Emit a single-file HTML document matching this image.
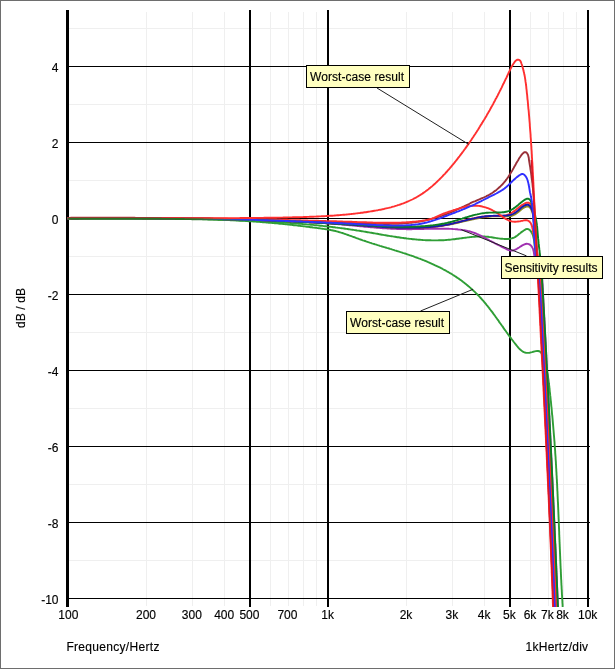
<!DOCTYPE html>
<html lang="en"><head><meta charset="utf-8"><title>Frequency response - worst-case and sensitivity</title>
<style>html,body{margin:0;padding:0;background:#fff;}body{width:615px;height:669px;overflow:hidden;}svg{display:block;}text{font-family:"Liberation Sans",sans-serif;fill:#000;stroke:#000;stroke-width:0.15px;}.ax{font-size:12px;}.lb{font-size:12px;}</style></head><body>
<svg width="615" height="669" viewBox="0 0 615 669">
<rect x="0" y="0" width="615" height="669" fill="#fff"/>
<g fill="#6e6e6e" shape-rendering="crispEdges">
<rect x="0" y="0" width="615" height="1"/>
<rect x="0" y="0" width="1" height="669"/>
<rect x="0" y="668" width="615" height="1"/>
<rect x="614" y="0" width="1" height="669"/>
</g>
<g fill="#efefef" shape-rendering="crispEdges">
<rect x="146" y="12" width="1" height="594"/>
<rect x="192" y="12" width="1" height="594"/>
<rect x="224" y="12" width="1" height="594"/>
<rect x="270" y="12" width="1" height="594"/>
<rect x="288" y="12" width="1" height="594"/>
<rect x="303" y="12" width="1" height="594"/>
<rect x="316" y="12" width="1" height="594"/>
<rect x="406" y="12" width="1" height="594"/>
<rect x="452" y="12" width="1" height="594"/>
<rect x="484" y="12" width="1" height="594"/>
<rect x="530" y="12" width="1" height="594"/>
<rect x="548" y="12" width="1" height="594"/>
<rect x="563" y="12" width="1" height="594"/>
<rect x="576" y="12" width="1" height="594"/>
<rect x="69" y="28" width="517" height="1"/>
<rect x="69" y="104" width="517" height="1"/>
<rect x="69" y="180" width="517" height="1"/>
<rect x="69" y="256" width="517" height="1"/>
<rect x="69" y="332" width="517" height="1"/>
<rect x="69" y="408" width="517" height="1"/>
<rect x="69" y="484" width="517" height="1"/>
<rect x="69" y="560" width="517" height="1"/>
</g>
<g fill="#000" shape-rendering="crispEdges">
<rect x="66" y="66" width="524" height="1"/>
<rect x="66" y="142" width="524" height="1"/>
<rect x="66" y="218" width="524" height="1"/>
<rect x="66" y="294" width="524" height="1"/>
<rect x="66" y="370" width="524" height="1"/>
<rect x="66" y="446" width="524" height="1"/>
<rect x="66" y="522" width="524" height="1"/>
<rect x="66" y="598" width="524" height="1"/>
<rect x="249" y="10" width="2" height="597"/>
<rect x="327" y="10" width="2" height="597"/>
<rect x="509" y="10" width="2" height="597"/>
<rect x="587" y="10" width="2" height="597"/>
<rect x="66" y="10" width="3" height="597"/>
</g>
<defs><linearGradient id="fadeR" gradientUnits="userSpaceOnUse" x1="150" y1="0" x2="235" y2="0"><stop offset="0" stop-color="#b82c38" stop-opacity="1"/><stop offset="1" stop-color="#ff3030" stop-opacity="0"/></linearGradient><linearGradient id="fadeG" gradientUnits="userSpaceOnUse" x1="190" y1="0" x2="265" y2="0"><stop offset="0" stop-color="#2a7024" stop-opacity="1"/><stop offset="1" stop-color="#2f9e36" stop-opacity="0"/></linearGradient><clipPath id="plotclip"><rect x="60" y="8" width="540" height="599"/></clipPath></defs>
<g fill="none" stroke-width="1.9" stroke-linejoin="round" stroke-linecap="butt" clip-path="url(#plotclip)">
<path stroke="#2f9e36" d="M67.5 218.2L68.7 218.2L69.9 218.2L71.1 218.2L72.3 218.3L73.5 218.3L74.7 218.3L75.9 218.3L77.1 218.3L78.3 218.3L79.5 218.3L80.7 218.3L81.9 218.3L83.1 218.3L84.3 218.4L85.5 218.4L86.7 218.4L87.9 218.4L89.1 218.4L90.3 218.4L91.5 218.4L92.7 218.4L93.9 218.4L95.1 218.4L96.3 218.4L97.5 218.4L98.7 218.4L99.9 218.4L101.1 218.4L102.3 218.4L103.5 218.4L104.7 218.4L105.9 218.4L107.1 218.4L108.3 218.4L109.5 218.4L110.7 218.4L111.9 218.4L113.1 218.4L114.3 218.4L115.5 218.4L116.7 218.4L117.9 218.4L119.1 218.4L120.3 218.4L121.5 218.4L122.7 218.4L123.9 218.4L125.1 218.4L126.2 218.4L127.4 218.4L128.6 218.4L129.8 218.4L131.0 218.4L132.2 218.4L133.4 218.4L134.6 218.4L135.8 218.4L137.0 218.4L138.2 218.4L139.4 218.4L140.6 218.4L141.8 218.4L143.0 218.5L144.2 218.5L145.4 218.5L146.6 218.5L147.8 218.5L149.0 218.5L150.2 218.5L151.4 218.5L152.6 218.5L153.8 218.5L155.0 218.5L156.2 218.5L157.4 218.5L158.6 218.5L159.8 218.5L161.0 218.5L162.2 218.5L163.4 218.5L164.6 218.5L165.8 218.6L167.0 218.6L168.2 218.6L169.4 218.6L170.6 218.6L171.8 218.6L173.0 218.6L174.2 218.6L175.4 218.6L176.6 218.7L177.8 218.7L179.0 218.7L180.2 218.7L181.4 218.7L182.6 218.7L183.8 218.8L185.0 218.8L186.2 218.8L187.4 218.8L188.6 218.8L189.8 218.9L191.0 218.9L192.2 218.9L193.4 218.9L194.6 219.0L195.8 219.0L197.0 219.0L198.2 219.0L199.4 219.1L200.6 219.1L201.8 219.1L203.0 219.2L204.2 219.2L205.4 219.2L206.6 219.3L207.8 219.3L209.0 219.3L210.2 219.4L211.4 219.4L212.6 219.4L213.8 219.5L215.0 219.5L216.2 219.6L217.4 219.6L218.6 219.7L219.8 219.7L221.0 219.7L222.2 219.8L223.4 219.8L224.6 219.9L225.8 219.9L227.0 220.0L228.2 220.0L229.4 220.1L230.6 220.2L231.8 220.2L233.0 220.3L234.1 220.3L235.3 220.4L236.5 220.5L237.7 220.5L238.9 220.6L240.1 220.7L241.3 220.7L242.5 220.8L243.7 220.9L244.9 220.9L246.1 221.0L247.3 221.1L248.5 221.2L249.7 221.2L250.9 221.3L252.1 221.4L253.3 221.5L254.5 221.6L255.7 221.6L256.9 221.7L258.1 221.8L259.3 221.9L260.5 222.0L261.7 222.1L262.9 222.2L264.1 222.3L265.3 222.4L266.4 222.5L267.6 222.6L268.8 222.7L270.0 222.8L271.2 222.9L272.4 223.0L273.6 223.1L274.8 223.2L276.0 223.3L277.2 223.4L278.4 223.6L279.6 223.7L280.8 223.8L282.0 223.9L283.2 224.0L284.4 224.1L285.6 224.3L286.8 224.4L287.9 224.5L289.1 224.6L290.3 224.8L291.5 224.9L292.7 225.0L293.9 225.2L295.1 225.3L296.3 225.4L297.5 225.6L298.7 225.7L299.9 225.8L301.1 226.0L302.2 226.1L303.4 226.3L304.6 226.4L305.8 226.6L307.0 226.7L308.2 226.9L309.4 227.0L310.6 227.2L311.8 227.3L313.0 227.5L314.1 227.6L315.3 227.8L316.5 227.9L317.7 228.1L318.9 228.2L320.1 228.4L321.3 228.6L322.5 228.7L323.6 228.9L324.8 229.1L326.0 229.2L327.2 229.4L328.4 229.6L329.6 229.8L330.7 230.0L331.9 230.3L333.1 230.5L334.2 230.8L335.4 231.0L336.6 231.3L337.7 231.6L338.9 232.0L340.0 232.3L341.2 232.7L342.3 233.0L343.5 233.4L344.6 233.8L345.7 234.2L346.9 234.6L348.0 235.0L349.1 235.4L350.3 235.8L351.4 236.2L352.5 236.6L353.7 237.0L354.8 237.4L355.9 237.9L357.1 238.3L358.2 238.7L359.3 239.1L360.5 239.5L361.6 239.9L362.7 240.3L363.9 240.6L365.0 241.0L366.1 241.4L367.3 241.8L368.4 242.2L369.6 242.6L370.7 242.9L371.8 243.3L373.0 243.7L374.1 244.0L375.3 244.4L376.4 244.7L377.5 245.1L378.7 245.4L379.8 245.8L381.0 246.1L382.1 246.5L383.3 246.8L384.4 247.2L385.6 247.5L386.7 247.9L387.8 248.2L389.0 248.5L390.1 248.9L391.3 249.2L392.4 249.6L393.6 249.9L394.7 250.3L395.9 250.6L397.0 251.0L398.2 251.3L399.3 251.7L400.5 252.1L401.6 252.4L402.7 252.8L403.9 253.2L405.0 253.5L406.2 253.9L407.3 254.3L408.4 254.7L409.6 255.1L410.7 255.4L411.9 255.8L413.0 256.2L414.1 256.6L415.3 257.1L416.4 257.5L417.5 257.9L418.6 258.3L419.8 258.7L420.9 259.2L422.0 259.6L423.1 260.0L424.2 260.5L425.4 260.9L426.5 261.4L427.6 261.9L428.7 262.3L429.8 262.8L430.9 263.3L432.0 263.8L433.1 264.3L434.2 264.8L435.2 265.3L436.3 265.8L437.4 266.3L438.5 266.8L439.6 267.3L440.6 267.9L441.7 268.4L442.7 269.0L443.8 269.6L444.8 270.1L445.9 270.7L446.9 271.3L448.0 271.9L449.0 272.5L450.0 273.1L451.1 273.7L452.1 274.3L453.1 275.0L454.1 275.6L455.1 276.2L456.1 276.9L457.1 277.6L458.1 278.2L459.1 278.9L460.0 279.6L461.0 280.3L462.0 281.0L462.9 281.8L463.9 282.5L464.8 283.2L465.8 284.0L466.7 284.7L467.6 285.5L468.5 286.3L469.5 287.1L470.4 287.9L471.3 288.7L472.2 289.5L473.0 290.3L473.9 291.1L474.8 291.9L475.7 292.8L476.5 293.6L477.4 294.5L478.2 295.4L479.0 296.2L479.9 297.1L480.7 298.0L481.5 298.9L482.3 299.8L483.1 300.7L483.9 301.6L484.6 302.5L485.4 303.4L486.2 304.4L486.9 305.3L487.7 306.2L488.4 307.2L489.2 308.1L489.9 309.1L490.6 310.0L491.3 311.0L492.1 311.9L492.8 312.9L493.5 313.9L494.2 314.8L494.9 315.8L495.6 316.8L496.3 317.7L497.0 318.7L497.7 319.7L498.4 320.6L499.0 321.6L499.7 322.6L500.4 323.5L501.1 324.5L501.8 325.5L502.5 326.4L503.2 327.4L503.8 328.4L504.5 329.4L505.2 330.3L505.9 331.3L506.6 332.3L507.3 333.2L508.0 334.2L508.7 335.2L509.4 336.2L510.1 337.1L510.9 338.1L511.6 339.1L512.3 340.0L513.1 341.0L513.8 342.0L514.6 343.0L515.3 343.9L516.1 344.9L516.9 345.9L517.7 346.8L518.5 347.8L519.3 348.7L520.2 349.5L521.1 350.3L522.0 351.0L522.9 351.6L523.9 352.1L525.0 352.5L526.0 352.7L527.2 352.9L528.3 352.9L529.6 352.7L530.9 352.4L532.1 352.1L533.4 351.7L534.7 351.4L535.9 351.1L537.1 351.0L538.2 351.0L539.1 351.2L540.0 351.7L540.8 352.4L541.4 353.2L542.0 354.2L542.5 355.3L543.0 356.4L543.4 357.6L543.8 358.7L544.2 359.9L544.6 361.1L544.9 362.2L545.3 363.4L545.6 364.6L545.9 365.7L546.2 366.9L546.4 368.1L546.7 369.3L546.9 370.4L547.2 371.6L547.4 372.8L547.6 374.0L547.8 375.2L548.0 376.4L548.1 377.5L548.3 378.7L548.5 379.9L548.6 381.1L548.8 382.3L548.9 383.5L549.1 384.7L549.2 385.9L549.3 387.0L549.5 388.2L549.6 389.4L549.7 390.6L549.8 391.8L550.0 393.0L550.1 394.2L550.2 395.4L550.4 396.6L550.5 397.8L550.6 399.0L550.7 400.1L550.9 401.3L551.0 402.5L551.1 403.7L551.2 404.9L551.3 406.1L551.5 407.3L551.6 408.5L551.7 409.7L551.8 410.9L551.9 412.1L552.0 413.3L552.1 414.5L552.3 415.7L552.4 416.9L552.5 418.0L552.6 419.2L552.7 420.4L552.8 421.6L552.9 422.8L553.0 424.0L553.1 425.2L553.2 426.4L553.3 427.6L553.4 428.8L553.5 430.0L553.6 431.2L553.7 432.4L553.8 433.6L553.9 434.8L554.0 436.0L554.1 437.2L554.2 438.4L554.3 439.6L554.4 440.8L554.5 441.9L554.6 443.1L554.6 444.3L554.7 445.5L554.8 446.7L554.9 447.9L555.0 449.1L555.1 450.3L555.2 451.5L555.2 452.7L555.3 453.9L555.4 455.1L555.5 456.3L555.6 457.5L555.6 458.7L555.7 459.9L555.8 461.1L555.9 462.3L555.9 463.5L556.0 464.7L556.1 465.9L556.1 467.1L556.2 468.3L556.3 469.5L556.3 470.7L556.4 471.9L556.5 473.1L556.5 474.3L556.6 475.5L556.7 476.7L556.7 477.8L556.8 479.0L556.9 480.2L556.9 481.4L557.0 482.6L557.1 483.8L557.1 485.0L557.2 486.2L557.2 487.4L557.3 488.6L557.3 489.8L557.4 491.0L557.5 492.2L557.5 493.4L557.6 494.6L557.6 495.8L557.7 497.0L557.7 498.2L557.8 499.4L557.8 500.6L557.9 501.8L558.0 503.0L558.0 504.2L558.1 505.4L558.1 506.6L558.2 507.8L558.2 509.0L558.3 510.2L558.3 511.4L558.4 512.6L558.4 513.8L558.5 515.0L558.5 516.2L558.6 517.4L558.6 518.6L558.7 519.8L558.7 521.0L558.8 522.2L558.8 523.4L558.9 524.6L558.9 525.8L559.0 527.0L559.0 528.2L559.1 529.4L559.1 530.6L559.2 531.8L559.2 533.0L559.2 534.1L559.3 535.3L559.3 536.5L559.4 537.7L559.4 538.9L559.5 540.1L559.5 541.3L559.6 542.5L559.6 543.7L559.7 544.9L559.7 546.1L559.8 547.3L559.8 548.5L559.9 549.7L559.9 550.9L560.0 552.1L560.0 553.3L560.1 554.5L560.1 555.7L560.2 556.9L560.2 558.1L560.3 559.3L560.3 560.5L560.4 561.7L560.4 562.9L560.5 564.1L560.5 565.3L560.6 566.5L560.6 567.7L560.7 568.9L560.8 570.1L560.8 571.3L560.9 572.5L560.9 573.7L561.0 574.9L561.0 576.1L561.1 577.3L561.1 578.5L561.2 579.7L561.3 580.9L561.3 582.1L561.4 583.3L561.4 584.5L561.5 585.7L561.6 586.9L561.6 588.1L561.7 589.3L561.8 590.5L561.8 591.6L561.9 592.8L561.9 594.0L562.0 595.2L562.1 596.4L562.1 597.6L562.2 598.8L562.3 600.0L562.4 601.2L562.4 602.4L562.5 603.6L562.6 604.8L562.6 606.0L562.7 607.2L562.8 608.4L562.9 609.6L562.9 610.8L563.0 612.0"/>
<path stroke="#2f9e36" d="M67.5 218.2L68.7 218.2L69.9 218.2L71.1 218.2L72.3 218.2L73.5 218.2L74.7 218.2L75.9 218.2L77.1 218.2L78.3 218.2L79.5 218.2L80.7 218.2L81.9 218.2L83.1 218.2L84.3 218.2L85.5 218.2L86.7 218.2L87.9 218.2L89.1 218.2L90.3 218.2L91.5 218.2L92.7 218.2L93.8 218.2L95.0 218.2L96.2 218.2L97.4 218.2L98.6 218.2L99.8 218.2L101.0 218.2L102.2 218.2L103.4 218.2L104.6 218.2L105.8 218.2L107.0 218.2L108.2 218.2L109.4 218.2L110.6 218.2L111.8 218.2L113.0 218.2L114.2 218.2L115.4 218.2L116.6 218.2L117.8 218.2L119.0 218.2L120.2 218.2L121.4 218.2L122.6 218.2L123.8 218.2L125.0 218.2L126.2 218.2L127.4 218.2L128.6 218.2L129.8 218.2L131.0 218.2L132.2 218.3L133.4 218.3L134.6 218.3L135.8 218.3L137.0 218.3L138.2 218.3L139.4 218.3L140.6 218.3L141.8 218.3L143.0 218.3L144.2 218.3L145.4 218.3L146.6 218.3L147.8 218.3L149.0 218.3L150.2 218.3L151.4 218.3L152.6 218.3L153.8 218.4L155.0 218.4L156.2 218.4L157.4 218.4L158.6 218.4L159.8 218.4L161.0 218.4L162.2 218.4L163.4 218.4L164.6 218.4L165.8 218.5L167.0 218.5L168.2 218.5L169.4 218.5L170.6 218.5L171.8 218.5L173.0 218.5L174.2 218.6L175.4 218.6L176.6 218.6L177.8 218.6L179.0 218.6L180.2 218.6L181.4 218.7L182.6 218.7L183.8 218.7L185.0 218.7L186.2 218.7L187.4 218.7L188.6 218.8L189.8 218.8L191.0 218.8L192.2 218.8L193.4 218.9L194.6 218.9L195.8 218.9L197.0 218.9L198.2 219.0L199.4 219.0L200.6 219.0L201.8 219.0L203.0 219.1L204.2 219.1L205.4 219.1L206.6 219.1L207.8 219.2L209.0 219.2L210.2 219.2L211.4 219.3L212.6 219.3L213.8 219.3L215.0 219.4L216.2 219.4L217.4 219.4L218.6 219.5L219.8 219.5L221.0 219.5L222.2 219.6L223.4 219.6L224.6 219.6L225.8 219.7L227.0 219.7L228.2 219.8L229.4 219.8L230.5 219.8L231.7 219.9L232.9 219.9L234.1 220.0L235.3 220.0L236.5 220.1L237.7 220.1L238.9 220.2L240.1 220.2L241.3 220.3L242.5 220.3L243.7 220.4L244.9 220.4L246.1 220.5L247.3 220.5L248.5 220.6L249.7 220.6L250.9 220.7L252.1 220.7L253.3 220.8L254.5 220.8L255.7 220.9L256.9 221.0L258.1 221.0L259.3 221.1L260.5 221.1L261.7 221.2L262.9 221.3L264.1 221.3L265.3 221.4L266.5 221.5L267.7 221.5L268.9 221.6L270.1 221.7L271.2 221.7L272.4 221.8L273.6 221.9L274.8 222.0L276.0 222.0L277.2 222.1L278.4 222.2L279.6 222.3L280.8 222.3L282.0 222.4L283.2 222.5L284.4 222.6L285.6 222.7L286.8 222.7L288.0 222.8L289.2 222.9L290.4 223.0L291.6 223.1L292.8 223.2L293.9 223.3L295.1 223.4L296.3 223.5L297.5 223.6L298.7 223.7L299.9 223.8L301.1 223.9L302.3 224.0L303.5 224.1L304.7 224.2L305.9 224.3L307.1 224.4L308.3 224.5L309.5 224.6L310.7 224.7L311.8 224.8L313.0 224.9L314.2 225.1L315.4 225.2L316.6 225.3L317.8 225.4L319.0 225.5L320.2 225.7L321.4 225.8L322.6 225.9L323.8 226.1L325.0 226.2L326.1 226.3L327.3 226.5L328.5 226.6L329.7 226.7L330.9 226.9L332.1 227.0L333.3 227.2L334.5 227.3L335.7 227.5L336.9 227.6L338.0 227.8L339.2 227.9L340.4 228.1L341.6 228.2L342.8 228.4L344.0 228.5L345.2 228.7L346.4 228.9L347.6 229.0L348.7 229.2L349.9 229.4L351.1 229.6L352.3 229.7L353.5 229.9L354.7 230.1L355.9 230.3L357.0 230.5L358.2 230.6L359.4 230.8L360.6 231.0L361.8 231.2L363.0 231.4L364.2 231.6L365.4 231.8L366.5 232.0L367.7 232.2L368.9 232.4L370.1 232.6L371.3 232.8L372.5 233.0L373.7 233.2L374.8 233.4L376.0 233.6L377.2 233.8L378.4 234.0L379.6 234.3L380.8 234.5L381.9 234.7L383.1 234.9L384.3 235.1L385.5 235.3L386.7 235.5L387.9 235.7L389.1 235.9L390.2 236.1L391.4 236.2L392.6 236.4L393.8 236.6L395.0 236.8L396.2 237.0L397.3 237.2L398.5 237.3L399.7 237.5L400.9 237.7L402.1 237.9L403.3 238.0L404.5 238.2L405.6 238.3L406.8 238.5L408.0 238.6L409.2 238.8L410.4 238.9L411.6 239.0L412.8 239.2L414.0 239.3L415.1 239.4L416.3 239.5L417.5 239.6L418.7 239.7L419.9 239.8L421.1 239.9L422.3 240.0L423.5 240.1L424.7 240.1L425.8 240.2L427.0 240.2L428.2 240.3L429.4 240.3L430.6 240.3L431.8 240.4L433.0 240.4L434.2 240.4L435.4 240.4L436.6 240.4L437.8 240.4L439.0 240.3L440.2 240.3L441.4 240.3L442.5 240.2L443.7 240.2L444.9 240.1L446.1 240.0L447.3 239.9L448.5 239.8L449.7 239.7L450.9 239.6L452.1 239.4L453.3 239.3L454.5 239.2L455.7 239.0L456.9 238.8L458.1 238.7L459.3 238.5L460.5 238.4L461.7 238.2L462.9 238.0L464.1 237.9L465.3 237.7L466.5 237.6L467.7 237.4L468.9 237.3L470.1 237.1L471.3 237.0L472.5 236.9L473.7 236.8L474.9 236.7L476.1 236.6L477.3 236.5L478.5 236.5L479.7 236.5L480.9 236.5L482.1 236.5L483.3 236.5L484.5 236.5L485.7 236.6L486.9 236.7L488.1 236.8L489.2 237.0L490.4 237.1L491.6 237.3L492.8 237.5L494.0 237.7L495.2 237.9L496.4 238.1L497.6 238.3L498.7 238.4L499.9 238.6L501.1 238.7L502.3 238.8L503.5 238.9L504.7 239.0L505.9 239.0L507.1 239.0L508.2 239.0L509.4 238.8L510.6 238.7L511.7 238.4L512.8 238.0L513.9 237.6L515.0 237.1L516.0 236.4L517.0 235.7L518.0 234.9L519.0 234.1L519.9 233.4L520.8 232.6L521.8 231.9L522.8 231.2L523.8 230.5L524.9 229.8L526.0 229.2L527.1 228.9L528.2 229.1L529.1 229.6L530.0 230.3L530.7 231.2L531.4 232.1L531.9 233.2L532.4 234.2L532.9 235.3L533.2 236.5L533.5 237.7L533.8 238.9L534.0 240.2L534.2 241.4L534.3 242.6L534.5 243.9L534.6 245.1L534.7 246.3L534.9 247.5L535.0 248.7L535.1 249.8L535.3 251.0L535.4 252.2L535.5 253.3L535.7 254.5L535.9 255.6L536.1 256.8L536.3 257.9L536.6 259.1L536.8 260.2L537.1 261.4L537.4 262.6L537.7 263.7L537.9 264.9L538.2 266.1L538.5 267.3L538.8 268.4L539.1 269.6L539.4 270.8L539.7 272.0L539.9 273.2L540.2 274.3L540.4 275.5L540.6 276.7L540.8 277.9L541.0 279.1L541.1 280.3L541.3 281.5L541.4 282.7L541.5 283.9L541.5 285.1L541.6 286.3L541.6 287.5L541.7 288.7L541.7 289.9L541.7 291.1L541.8 292.3L541.8 293.5L541.8 294.7L541.9 295.9L541.9 297.1L541.9 298.3L542.0 299.5L542.0 300.7L542.1 301.9L542.1 303.0L542.2 304.2L542.2 305.4L542.3 306.6L542.3 307.8L542.4 309.0L542.5 310.2L542.5 311.4L542.6 312.6L542.7 313.8L542.7 315.0L542.8 316.2L542.9 317.4L542.9 318.6L543.0 319.8L543.1 321.0L543.1 322.2L543.2 323.4L543.3 324.6L543.3 325.8L543.4 327.0L543.5 328.2L543.5 329.4L543.6 330.6L543.7 331.8L543.8 333.0L543.8 334.2L543.9 335.4L544.0 336.6L544.0 337.8L544.1 339.0L544.2 340.2L544.2 341.4L544.3 342.6L544.4 343.7L544.4 344.9L544.5 346.1L544.5 347.3L544.6 348.5L544.7 349.7L544.7 350.9L544.8 352.1L544.9 353.3L544.9 354.5L545.0 355.7L545.1 356.9L545.1 358.1L545.2 359.3L545.3 360.5L545.3 361.7L545.4 362.9L545.4 364.1L545.5 365.3L545.6 366.5L545.6 367.7L545.7 368.9L545.8 370.1L545.8 371.3L545.9 372.5L545.9 373.7L546.0 374.9L546.1 376.1L546.1 377.3L546.2 378.5L546.3 379.7L546.3 380.9L546.4 382.1L546.4 383.3L546.5 384.5L546.6 385.7L546.6 386.8L546.7 388.0L546.7 389.2L546.8 390.4L546.9 391.6L546.9 392.8L547.0 394.0L547.0 395.2L547.1 396.4L547.2 397.6L547.2 398.8L547.3 400.0L547.3 401.2L547.4 402.4L547.5 403.6L547.5 404.8L547.6 406.0L547.6 407.2L547.7 408.4L547.8 409.6L547.8 410.8L547.9 412.0L547.9 413.2L548.0 414.4L548.1 415.6L548.1 416.8L548.2 418.0L548.2 419.2L548.3 420.4L548.3 421.6L548.4 422.8L548.5 424.0L548.5 425.2L548.6 426.4L548.6 427.6L548.7 428.8L548.7 430.0L548.8 431.2L548.9 432.3L548.9 433.5L549.0 434.7L549.0 435.9L549.1 437.1L549.1 438.3L549.2 439.5L549.3 440.7L549.3 441.9L549.4 443.1L549.4 444.3L549.5 445.5L549.5 446.7L549.6 447.9L549.6 449.1L549.7 450.3L549.8 451.5L549.8 452.7L549.9 453.9L549.9 455.1L550.0 456.3L550.0 457.5L550.1 458.7L550.1 459.9L550.2 461.1L550.2 462.3L550.3 463.5L550.4 464.7L550.4 465.9L550.5 467.1L550.5 468.3L550.6 469.5L550.6 470.7L550.7 471.9L550.7 473.1L550.8 474.3L550.8 475.5L550.9 476.7L551.0 477.9L551.0 479.1L551.1 480.3L551.1 481.4L551.2 482.6L551.2 483.8L551.3 485.0L551.3 486.2L551.4 487.4L551.4 488.6L551.5 489.8L551.5 491.0L551.6 492.2L551.6 493.4L551.7 494.6L551.8 495.8L551.8 497.0L551.9 498.2L551.9 499.4L552.0 500.6L552.0 501.8L552.1 503.0L552.1 504.2L552.2 505.4L552.2 506.6L552.3 507.8L552.3 509.0L552.4 510.2L552.4 511.4L552.5 512.6L552.5 513.8L552.6 515.0L552.6 516.2L552.7 517.4L552.8 518.6L552.8 519.8L552.9 521.0L552.9 522.2L553.0 523.4L553.0 524.6L553.1 525.8L553.1 527.0L553.2 528.2L553.2 529.4L553.3 530.6L553.3 531.8L553.4 532.9L553.4 534.1L553.5 535.3L553.5 536.5L553.6 537.7L553.6 538.9L553.7 540.1L553.7 541.3L553.8 542.5L553.8 543.7L553.9 544.9L553.9 546.1L554.0 547.3L554.0 548.5L554.1 549.7L554.1 550.9L554.2 552.1L554.2 553.3L554.3 554.5L554.4 555.7L554.4 556.9L554.5 558.1L554.5 559.3L554.6 560.5L554.6 561.7L554.7 562.9L554.7 564.1L554.8 565.3L554.8 566.5L554.9 567.7L554.9 568.9L555.0 570.1L555.0 571.3L555.1 572.5L555.1 573.7L555.2 574.9L555.2 576.1L555.3 577.3L555.3 578.5L555.4 579.7L555.4 580.9L555.5 582.1L555.5 583.3L555.6 584.5L555.6 585.6L555.7 586.8L555.7 588.0L555.8 589.2L555.8 590.4L555.9 591.6L555.9 592.8L556.0 594.0L556.0 595.2L556.1 596.4L556.1 597.6L556.2 598.8L556.2 600.0L556.3 601.2L556.4 602.4L556.4 603.6L556.5 604.8L556.5 606.0L556.6 607.2L556.6 608.4L556.7 609.6L556.7 610.8L556.8 612.0"/>
<path stroke="#a030b0" d="M67.5 218.2L68.7 218.2L69.9 218.2L71.1 218.2L72.3 218.2L73.5 218.2L74.7 218.2L75.9 218.2L77.1 218.2L78.3 218.2L79.5 218.2L80.7 218.2L81.9 218.2L83.1 218.1L84.3 218.1L85.5 218.1L86.7 218.1L87.9 218.1L89.1 218.1L90.3 218.1L91.5 218.1L92.7 218.1L93.9 218.1L95.1 218.1L96.3 218.1L97.5 218.1L98.7 218.1L99.9 218.1L101.1 218.1L102.3 218.1L103.5 218.1L104.7 218.1L105.9 218.1L107.1 218.1L108.3 218.1L109.5 218.1L110.7 218.1L111.9 218.1L113.1 218.1L114.3 218.1L115.5 218.1L116.7 218.1L117.9 218.1L119.1 218.1L120.3 218.1L121.5 218.1L122.7 218.1L123.9 218.1L125.1 218.1L126.3 218.1L127.5 218.1L128.7 218.1L129.9 218.1L131.1 218.1L132.3 218.1L133.5 218.1L134.7 218.2L135.9 218.2L137.1 218.2L138.3 218.2L139.5 218.2L140.7 218.2L141.9 218.2L143.1 218.2L144.3 218.2L145.5 218.2L146.7 218.2L147.9 218.2L149.1 218.2L150.3 218.2L151.5 218.2L152.7 218.2L153.9 218.3L155.1 218.3L156.3 218.3L157.5 218.3L158.7 218.3L159.9 218.3L161.1 218.3L162.3 218.3L163.5 218.3L164.7 218.3L165.9 218.3L167.1 218.4L168.3 218.4L169.5 218.4L170.7 218.4L171.9 218.4L173.1 218.4L174.3 218.4L175.5 218.4L176.7 218.4L177.9 218.5L179.1 218.5L180.3 218.5L181.5 218.5L182.7 218.5L183.9 218.5L185.1 218.5L186.3 218.6L187.5 218.6L188.7 218.6L189.9 218.6L191.1 218.6L192.3 218.6L193.5 218.7L194.7 218.7L195.9 218.7L197.1 218.7L198.3 218.7L199.5 218.7L200.7 218.8L201.9 218.8L203.1 218.8L204.3 218.8L205.5 218.8L206.7 218.9L207.9 218.9L209.1 218.9L210.3 218.9L211.5 218.9L212.7 219.0L213.9 219.0L215.1 219.0L216.3 219.0L217.5 219.0L218.7 219.1L219.9 219.1L221.1 219.1L222.3 219.1L223.5 219.2L224.7 219.2L225.9 219.2L227.1 219.2L228.3 219.3L229.5 219.3L230.7 219.3L231.9 219.3L233.1 219.4L234.3 219.4L235.5 219.4L236.7 219.4L237.9 219.5L239.1 219.5L240.3 219.5L241.5 219.5L242.7 219.6L243.9 219.6L245.0 219.6L246.2 219.7L247.4 219.7L248.6 219.7L249.8 219.8L251.0 219.8L252.2 219.8L253.4 219.8L254.6 219.9L255.8 219.9L257.0 219.9L258.2 220.0L259.4 220.0L260.6 220.0L261.8 220.1L263.0 220.1L264.2 220.1L265.4 220.2L266.6 220.2L267.8 220.3L269.0 220.3L270.2 220.3L271.4 220.4L272.6 220.4L273.8 220.4L275.0 220.5L276.2 220.5L277.4 220.6L278.6 220.6L279.8 220.6L281.0 220.7L282.2 220.7L283.4 220.8L284.6 220.8L285.8 220.9L287.0 220.9L288.2 221.0L289.4 221.0L290.6 221.1L291.8 221.1L293.0 221.2L294.2 221.2L295.4 221.3L296.6 221.3L297.8 221.4L299.0 221.4L300.2 221.5L301.4 221.6L302.6 221.6L303.8 221.7L305.0 221.8L306.2 221.8L307.4 221.9L308.6 222.0L309.8 222.0L311.0 222.1L312.2 222.2L313.4 222.2L314.6 222.3L315.8 222.4L317.0 222.5L318.2 222.5L319.4 222.6L320.6 222.7L321.8 222.8L323.0 222.9L324.2 223.0L325.4 223.1L326.6 223.2L327.7 223.2L328.9 223.3L330.1 223.4L331.3 223.5L332.5 223.6L333.7 223.7L334.9 223.8L336.1 224.0L337.3 224.1L338.5 224.2L339.7 224.3L340.9 224.4L342.1 224.5L343.3 224.6L344.5 224.7L345.7 224.8L346.9 224.9L348.1 225.1L349.3 225.2L350.4 225.3L351.6 225.4L352.8 225.5L354.0 225.6L355.2 225.7L356.4 225.9L357.6 226.0L358.8 226.1L360.0 226.2L361.2 226.3L362.4 226.4L363.6 226.6L364.8 226.7L366.0 226.8L367.2 226.9L368.4 227.0L369.5 227.1L370.7 227.2L371.9 227.3L373.1 227.4L374.3 227.5L375.5 227.6L376.7 227.7L377.9 227.8L379.1 227.9L380.3 228.0L381.5 228.1L382.7 228.2L383.9 228.3L385.1 228.3L386.3 228.4L387.5 228.5L388.7 228.6L389.9 228.6L391.1 228.7L392.3 228.8L393.5 228.8L394.7 228.9L395.9 228.9L397.1 229.0L398.3 229.0L399.5 229.0L400.7 229.1L401.9 229.1L403.1 229.1L404.3 229.1L405.5 229.1L406.7 229.2L407.9 229.2L409.1 229.2L410.3 229.2L411.5 229.2L412.7 229.1L413.9 229.1L415.1 229.1L416.3 229.1L417.5 229.1L418.7 229.1L419.9 229.0L421.1 229.0L422.3 229.0L423.5 229.0L424.7 228.9L425.9 228.9L427.1 228.9L428.3 228.8L429.5 228.8L430.7 228.8L431.9 228.8L433.1 228.7L434.3 228.7L435.5 228.7L436.7 228.7L437.9 228.7L439.1 228.7L440.3 228.7L441.5 228.7L442.7 228.7L443.9 228.7L445.1 228.7L446.3 228.7L447.5 228.8L448.7 228.8L449.9 228.9L451.1 228.9L452.3 229.0L453.5 229.1L454.7 229.1L455.8 229.2L457.0 229.3L458.2 229.5L459.4 229.6L460.6 229.7L461.8 229.9L463.0 230.1L464.2 230.3L465.4 230.5L466.5 230.7L467.7 231.0L468.9 231.2L470.0 231.5L471.2 231.8L472.3 232.2L473.5 232.6L474.6 233.0L475.7 233.4L476.8 233.9L477.9 234.3L479.0 234.9L480.1 235.4L481.2 235.9L482.3 236.5L483.3 237.0L484.4 237.6L485.5 238.2L486.5 238.8L487.6 239.3L488.6 239.9L489.7 240.5L490.7 241.0L491.8 241.6L492.8 242.2L493.9 242.7L494.9 243.3L496.0 243.8L497.1 244.4L498.1 245.0L499.2 245.5L500.3 246.0L501.4 246.6L502.4 247.1L503.5 247.7L504.6 248.2L505.7 248.7L506.9 249.3L508.0 249.8L509.1 250.2L510.3 250.5L511.4 250.6L512.5 250.5L513.6 250.3L514.7 249.9L515.8 249.4L516.9 248.8L518.0 248.1L519.1 247.5L520.1 246.8L521.2 246.1L522.3 245.4L523.4 244.9L524.5 244.4L525.6 244.0L526.7 243.8L527.8 243.9L528.8 244.1L529.7 244.6L530.6 245.2L531.4 246.1L532.0 247.0L532.6 248.1L533.1 249.2L533.4 250.4L533.7 251.6L533.9 252.9L534.1 254.1L534.3 255.4L534.6 256.6L534.9 257.8L535.3 258.9L535.8 259.9L536.3 261.0L536.9 262.0L537.5 263.1L538.1 264.1L538.7 265.1L539.3 266.2L539.9 267.2L540.4 268.3L540.8 269.4L541.2 270.5L541.5 271.7L541.7 272.8L541.8 274.0L541.9 275.2L542.0 276.4L542.1 277.6L542.2 278.8L542.3 280.0L542.4 281.2L542.4 282.4L542.5 283.6L542.6 284.8L542.7 286.0L542.7 287.2L542.8 288.4L542.9 289.6L542.9 290.8L543.0 292.0L543.0 293.2L543.1 294.4L543.2 295.6L543.2 296.8L543.3 298.0L543.4 299.2L543.4 300.4L543.5 301.6L543.5 302.8L543.6 304.0L543.7 305.2L543.7 306.4L543.8 307.6L543.9 308.8L543.9 310.0L544.0 311.2L544.0 312.4L544.1 313.6L544.2 314.8L544.2 316.0L544.3 317.2L544.4 318.4L544.4 319.6L544.5 320.8L544.5 322.0L544.6 323.2L544.7 324.4L544.7 325.6L544.8 326.8L544.9 328.0L544.9 329.2L545.0 330.4L545.0 331.6L545.1 332.8L545.2 334.0L545.2 335.2L545.3 336.4L545.4 337.6L545.4 338.8L545.5 339.9L545.5 341.1L545.6 342.3L545.7 343.5L545.7 344.7L545.8 345.9L545.8 347.1L545.9 348.3L546.0 349.5L546.0 350.7L546.1 351.9L546.2 353.1L546.2 354.3L546.3 355.5L546.3 356.7L546.4 357.9L546.5 359.1L546.5 360.3L546.6 361.5L546.6 362.7L546.7 363.9L546.8 365.1L546.8 366.3L546.9 367.5L547.0 368.7L547.0 369.9L547.1 371.1L547.1 372.3L547.2 373.5L547.3 374.7L547.3 375.9L547.4 377.1L547.4 378.3L547.5 379.5L547.6 380.7L547.6 381.9L547.7 383.1L547.7 384.3L547.8 385.5L547.9 386.7L547.9 387.9L548.0 389.1L548.0 390.3L548.1 391.5L548.2 392.7L548.2 393.9L548.3 395.1L548.3 396.3L548.4 397.5L548.5 398.7L548.5 399.9L548.6 401.1L548.6 402.3L548.7 403.5L548.8 404.7L548.8 405.9L548.9 407.0L548.9 408.2L549.0 409.4L549.1 410.6L549.1 411.8L549.2 413.0L549.2 414.2L549.3 415.4L549.4 416.6L549.4 417.8L549.5 419.0L549.5 420.2L549.6 421.4L549.7 422.6L549.7 423.8L549.8 425.0L549.8 426.2L549.9 427.4L549.9 428.6L550.0 429.8L550.1 431.0L550.1 432.2L550.2 433.4L550.2 434.6L550.3 435.8L550.4 437.0L550.4 438.2L550.5 439.4L550.5 440.6L550.6 441.8L550.6 443.0L550.7 444.2L550.8 445.4L550.8 446.6L550.9 447.8L550.9 449.0L551.0 450.2L551.1 451.4L551.1 452.6L551.2 453.8L551.2 455.0L551.3 456.2L551.3 457.4L551.4 458.6L551.5 459.8L551.5 461.0L551.6 462.2L551.6 463.4L551.7 464.6L551.7 465.8L551.8 467.0L551.9 468.2L551.9 469.4L552.0 470.6L552.0 471.8L552.1 473.0L552.1 474.2L552.2 475.4L552.2 476.6L552.3 477.8L552.4 479.0L552.4 480.2L552.5 481.3L552.5 482.5L552.6 483.7L552.6 484.9L552.7 486.1L552.8 487.3L552.8 488.5L552.9 489.7L552.9 490.9L553.0 492.1L553.0 493.3L553.1 494.5L553.1 495.7L553.2 496.9L553.3 498.1L553.3 499.3L553.4 500.5L553.4 501.7L553.5 502.9L553.5 504.1L553.6 505.3L553.6 506.5L553.7 507.7L553.7 508.9L553.8 510.1L553.9 511.3L553.9 512.5L554.0 513.7L554.0 514.9L554.1 516.1L554.1 517.3L554.2 518.5L554.2 519.7L554.3 520.9L554.3 522.1L554.4 523.3L554.5 524.5L554.5 525.7L554.6 526.9L554.6 528.1L554.7 529.3L554.7 530.5L554.8 531.7L554.8 532.9L554.9 534.1L554.9 535.3L555.0 536.5L555.0 537.7L555.1 538.9L555.1 540.1L555.2 541.3L555.2 542.5L555.3 543.7L555.4 544.9L555.4 546.1L555.5 547.3L555.5 548.5L555.6 549.7L555.6 550.9L555.7 552.1L555.7 553.3L555.8 554.5L555.8 555.7L555.9 556.9L555.9 558.1L556.0 559.3L556.0 560.5L556.1 561.7L556.1 562.9L556.2 564.1L556.2 565.2L556.3 566.4L556.3 567.6L556.4 568.8L556.4 570.0L556.5 571.2L556.5 572.4L556.6 573.6L556.6 574.8L556.7 576.0L556.7 577.2L556.8 578.4L556.8 579.6L556.9 580.8L556.9 582.0L557.0 583.2L557.0 584.4L557.1 585.6L557.1 586.8L557.2 588.0L557.2 589.2L557.3 590.4L557.3 591.6L557.4 592.8L557.4 594.0L557.5 595.2L557.5 596.4L557.6 597.6L557.6 598.8L557.7 600.0L557.7 601.2L557.8 602.4L557.8 603.6L557.9 604.8L557.9 606.0L558.0 607.2L558.0 608.4L558.1 609.6L558.1 610.8L558.1 612.0"/>
<path stroke="#8c8c22" d="M67.5 218.2L68.7 218.2L69.9 218.2L71.1 218.2L72.3 218.2L73.5 218.2L74.7 218.2L75.9 218.2L77.1 218.2L78.3 218.2L79.5 218.2L80.7 218.2L81.9 218.2L83.1 218.2L84.3 218.2L85.5 218.2L86.7 218.2L87.9 218.2L89.1 218.2L90.2 218.2L91.4 218.2L92.6 218.2L93.8 218.2L95.0 218.2L96.2 218.2L97.4 218.2L98.6 218.2L99.8 218.2L101.0 218.2L102.2 218.2L103.4 218.2L104.6 218.2L105.8 218.2L107.0 218.2L108.2 218.2L109.4 218.2L110.6 218.2L111.8 218.2L113.0 218.2L114.2 218.2L115.4 218.2L116.6 218.2L117.8 218.2L119.0 218.2L120.2 218.2L121.4 218.2L122.6 218.2L123.8 218.2L125.0 218.2L126.2 218.2L127.4 218.3L128.6 218.3L129.8 218.3L131.0 218.3L132.2 218.3L133.4 218.3L134.6 218.3L135.8 218.3L137.0 218.3L138.2 218.3L139.4 218.3L140.6 218.3L141.8 218.3L143.0 218.3L144.2 218.3L145.4 218.3L146.6 218.3L147.8 218.3L149.0 218.3L150.2 218.3L151.4 218.3L152.6 218.3L153.8 218.3L155.0 218.3L156.2 218.3L157.4 218.3L158.6 218.3L159.8 218.3L161.0 218.3L162.2 218.3L163.4 218.3L164.6 218.3L165.8 218.4L167.0 218.4L168.2 218.4L169.4 218.4L170.6 218.4L171.8 218.4L173.0 218.4L174.2 218.4L175.4 218.4L176.6 218.4L177.8 218.4L179.0 218.4L180.2 218.4L181.4 218.5L182.6 218.5L183.8 218.5L185.0 218.5L186.2 218.5L187.4 218.5L188.6 218.5L189.8 218.5L191.0 218.5L192.3 218.6L193.5 218.6L194.7 218.6L195.9 218.6L197.1 218.6L198.3 218.6L199.5 218.6L200.7 218.7L201.9 218.7L203.1 218.7L204.3 218.7L205.5 218.7L206.7 218.7L207.9 218.8L209.1 218.8L210.3 218.8L211.5 218.8L212.7 218.8L213.9 218.9L215.1 218.9L216.3 218.9L217.5 218.9L218.7 218.9L219.9 219.0L221.1 219.0L222.3 219.0L223.5 219.0L224.7 219.0L225.8 219.1L227.0 219.1L228.2 219.1L229.4 219.1L230.6 219.2L231.8 219.2L233.0 219.2L234.2 219.3L235.4 219.3L236.6 219.3L237.8 219.3L239.0 219.4L240.2 219.4L241.4 219.4L242.6 219.5L243.8 219.5L245.0 219.5L246.2 219.6L247.4 219.6L248.6 219.6L249.8 219.7L251.0 219.7L252.2 219.7L253.4 219.8L254.6 219.8L255.8 219.9L257.0 219.9L258.2 219.9L259.4 220.0L260.6 220.0L261.8 220.1L263.0 220.1L264.2 220.1L265.4 220.2L266.6 220.2L267.8 220.3L269.0 220.3L270.2 220.4L271.4 220.4L272.6 220.5L273.8 220.5L275.0 220.6L276.2 220.6L277.3 220.7L278.5 220.7L279.7 220.8L280.9 220.8L282.1 220.9L283.3 220.9L284.5 221.0L285.7 221.0L286.9 221.1L288.1 221.1L289.3 221.2L290.5 221.2L291.7 221.3L292.9 221.4L294.1 221.4L295.3 221.5L296.5 221.5L297.7 221.6L298.9 221.6L300.1 221.7L301.3 221.8L302.5 221.8L303.7 221.9L304.8 222.0L306.0 222.0L307.2 222.1L308.4 222.1L309.6 222.2L310.8 222.3L312.0 222.3L313.2 222.4L314.4 222.5L315.6 222.5L316.8 222.6L318.0 222.7L319.2 222.8L320.4 222.8L321.6 222.9L322.8 223.0L324.0 223.0L325.2 223.1L326.4 223.2L327.6 223.3L328.8 223.3L330.0 223.4L331.2 223.5L332.4 223.5L333.6 223.6L334.8 223.7L336.0 223.8L337.1 223.9L338.3 223.9L339.5 224.0L340.7 224.1L341.9 224.2L343.1 224.2L344.3 224.3L345.5 224.4L346.7 224.5L347.9 224.6L349.1 224.6L350.3 224.7L351.5 224.8L352.7 224.9L353.9 225.0L355.1 225.1L356.3 225.1L357.5 225.2L358.7 225.3L359.9 225.4L361.1 225.5L362.3 225.6L363.5 225.7L364.7 225.8L365.9 225.8L367.1 225.9L368.3 226.0L369.5 226.1L370.7 226.2L371.9 226.3L373.1 226.4L374.3 226.4L375.5 226.5L376.7 226.6L377.9 226.7L379.1 226.8L380.3 226.8L381.5 226.9L382.7 227.0L383.9 227.1L385.1 227.1L386.3 227.2L387.5 227.3L388.7 227.3L389.9 227.4L391.1 227.4L392.3 227.5L393.5 227.5L394.7 227.6L395.9 227.6L397.1 227.7L398.3 227.7L399.5 227.8L400.7 227.8L401.9 227.8L403.1 227.8L404.3 227.9L405.5 227.9L406.7 227.9L407.9 227.9L409.1 227.9L410.3 227.9L411.5 227.9L412.7 227.9L413.9 227.9L415.1 227.9L416.3 227.8L417.5 227.8L418.7 227.8L419.9 227.7L421.1 227.7L422.3 227.6L423.5 227.6L424.7 227.5L425.9 227.4L427.0 227.3L428.2 227.3L429.4 227.2L430.6 227.1L431.8 227.0L433.0 226.9L434.2 226.7L435.4 226.6L436.5 226.5L437.7 226.3L438.9 226.2L440.1 226.0L441.3 225.9L442.5 225.7L443.7 225.5L444.8 225.3L446.0 225.1L447.2 224.9L448.4 224.7L449.6 224.5L450.7 224.3L451.9 224.0L453.1 223.8L454.3 223.5L455.4 223.3L456.6 223.0L457.8 222.8L459.0 222.5L460.1 222.2L461.3 221.9L462.5 221.7L463.7 221.4L464.8 221.1L466.0 220.8L467.2 220.6L468.4 220.3L469.5 220.0L470.7 219.7L471.9 219.5L473.1 219.2L474.2 219.0L475.4 218.7L476.6 218.5L477.8 218.3L478.9 218.0L480.1 217.8L481.3 217.6L482.5 217.4L483.7 217.3L484.8 217.1L486.0 217.0L487.2 216.8L488.4 216.7L489.6 216.6L490.8 216.5L492.0 216.4L493.1 216.4L494.3 216.3L495.5 216.3L496.7 216.3L497.9 216.2L499.1 216.2L500.3 216.2L501.5 216.3L502.7 216.3L504.0 216.3L505.2 216.4L506.4 216.4L507.6 216.4L508.8 216.4L510.0 216.2L511.1 216.0L512.3 215.7L513.3 215.2L514.4 214.7L515.4 214.1L516.4 213.5L517.4 212.8L518.3 212.1L519.2 211.3L520.1 210.5L521.0 209.7L521.9 209.0L522.9 208.3L524.0 207.6L525.2 207.0L526.4 206.6L527.6 206.4L528.7 206.6L529.6 207.2L530.3 208.0L531.0 209.0L531.5 210.1L531.9 211.2L532.3 212.3L532.6 213.5L532.9 214.6L533.1 215.8L533.3 217.0L533.5 218.2L533.6 219.4L533.7 220.6L533.8 221.8L533.9 223.0L534.0 224.2L534.1 225.5L534.2 226.7L534.3 227.9L534.4 229.1L534.5 230.3L534.6 231.5L534.7 232.7L534.8 233.9L534.9 235.1L535.0 236.2L535.1 237.4L535.2 238.6L535.3 239.8L535.4 241.0L535.5 242.2L535.7 243.4L535.8 244.6L535.9 245.8L536.0 246.9L536.2 248.1L536.3 249.3L536.5 250.5L536.6 251.7L536.8 252.9L536.9 254.0L537.1 255.2L537.3 256.4L537.4 257.6L537.6 258.8L537.8 260.0L538.0 261.2L538.2 262.3L538.4 263.5L538.6 264.7L538.8 265.9L538.9 267.1L539.1 268.3L539.3 269.5L539.5 270.6L539.7 271.8L539.8 273.0L540.0 274.2L540.2 275.4L540.3 276.6L540.5 277.8L540.6 279.0L540.7 280.2L540.8 281.4L540.9 282.6L541.0 283.8L541.1 285.0L541.2 286.2L541.3 287.3L541.4 288.5L541.4 289.7L541.5 290.9L541.6 292.1L541.6 293.3L541.7 294.5L541.7 295.7L541.8 296.9L541.9 298.1L541.9 299.3L542.0 300.5L542.0 301.7L542.1 302.9L542.2 304.1L542.2 305.3L542.3 306.5L542.4 307.7L542.4 308.9L542.5 310.1L542.5 311.3L542.6 312.5L542.7 313.7L542.7 314.9L542.8 316.1L542.8 317.3L542.9 318.5L543.0 319.7L543.0 320.9L543.1 322.1L543.1 323.3L543.2 324.5L543.3 325.7L543.3 326.9L543.4 328.1L543.4 329.3L543.5 330.5L543.6 331.7L543.6 332.9L543.7 334.1L543.8 335.3L543.8 336.5L543.9 337.6L543.9 338.8L544.0 340.0L544.1 341.2L544.1 342.4L544.2 343.6L544.2 344.8L544.3 346.0L544.4 347.2L544.4 348.4L544.5 349.6L544.5 350.8L544.6 352.0L544.7 353.2L544.7 354.4L544.8 355.6L544.8 356.8L544.9 358.0L545.0 359.2L545.0 360.4L545.1 361.6L545.1 362.8L545.2 364.0L545.3 365.2L545.3 366.4L545.4 367.6L545.4 368.8L545.5 370.0L545.6 371.2L545.6 372.4L545.7 373.6L545.7 374.8L545.8 376.0L545.9 377.2L545.9 378.4L546.0 379.6L546.0 380.8L546.1 382.0L546.2 383.2L546.2 384.4L546.3 385.6L546.3 386.8L546.4 388.0L546.5 389.2L546.5 390.4L546.6 391.6L546.6 392.7L546.7 393.9L546.8 395.1L546.8 396.3L546.9 397.5L546.9 398.7L547.0 399.9L547.1 401.1L547.1 402.3L547.2 403.5L547.2 404.7L547.3 405.9L547.3 407.1L547.4 408.3L547.5 409.5L547.5 410.7L547.6 411.9L547.6 413.1L547.7 414.3L547.8 415.5L547.8 416.7L547.9 417.9L547.9 419.1L548.0 420.3L548.0 421.5L548.1 422.7L548.2 423.9L548.2 425.1L548.3 426.3L548.3 427.5L548.4 428.7L548.5 429.9L548.5 431.1L548.6 432.3L548.6 433.5L548.7 434.7L548.7 435.9L548.8 437.1L548.9 438.3L548.9 439.5L549.0 440.7L549.0 441.9L549.1 443.1L549.1 444.3L549.2 445.5L549.3 446.7L549.3 447.9L549.4 449.0L549.4 450.2L549.5 451.4L549.5 452.6L549.6 453.8L549.7 455.0L549.7 456.2L549.8 457.4L549.8 458.6L549.9 459.8L549.9 461.0L550.0 462.2L550.1 463.4L550.1 464.6L550.2 465.8L550.2 467.0L550.3 468.2L550.3 469.4L550.4 470.6L550.4 471.8L550.5 473.0L550.6 474.2L550.6 475.4L550.7 476.6L550.7 477.8L550.8 479.0L550.8 480.2L550.9 481.4L550.9 482.6L551.0 483.8L551.1 485.0L551.1 486.2L551.2 487.4L551.2 488.6L551.3 489.8L551.3 491.0L551.4 492.2L551.4 493.4L551.5 494.6L551.6 495.8L551.6 497.0L551.7 498.2L551.7 499.4L551.8 500.6L551.8 501.8L551.9 503.0L551.9 504.2L552.0 505.4L552.0 506.6L552.1 507.8L552.1 509.0L552.2 510.1L552.3 511.3L552.3 512.5L552.4 513.7L552.4 514.9L552.5 516.1L552.5 517.3L552.6 518.5L552.6 519.7L552.7 520.9L552.7 522.1L552.8 523.3L552.8 524.5L552.9 525.7L552.9 526.9L553.0 528.1L553.1 529.3L553.1 530.5L553.2 531.7L553.2 532.9L553.3 534.1L553.3 535.3L553.4 536.5L553.4 537.7L553.5 538.9L553.5 540.1L553.6 541.3L553.6 542.5L553.7 543.7L553.7 544.9L553.8 546.1L553.8 547.3L553.9 548.5L553.9 549.7L554.0 550.9L554.0 552.1L554.1 553.3L554.1 554.5L554.2 555.7L554.2 556.9L554.3 558.1L554.3 559.3L554.4 560.5L554.4 561.7L554.5 562.9L554.5 564.1L554.6 565.3L554.6 566.5L554.7 567.7L554.7 568.9L554.8 570.1L554.8 571.3L554.9 572.5L554.9 573.7L555.0 574.9L555.0 576.1L555.1 577.2L555.1 578.4L555.2 579.6L555.2 580.8L555.3 582.0L555.3 583.2L555.4 584.4L555.4 585.6L555.5 586.8L555.5 588.0L555.6 589.2L555.6 590.4L555.7 591.6L555.7 592.8L555.8 594.0L555.8 595.2L555.9 596.4L555.9 597.6L556.0 598.8L556.0 600.0L556.1 601.2L556.1 602.4L556.1 603.6L556.2 604.8L556.2 606.0L556.3 607.2L556.3 608.4L556.4 609.6L556.4 610.8L556.5 612.0"/>
<path stroke="#ff3030" d="M67.5 218.2L68.7 218.2L69.9 218.2L71.1 218.2L72.3 218.2L73.5 218.2L74.7 218.2L75.9 218.2L77.1 218.2L78.3 218.2L79.5 218.2L80.7 218.2L81.9 218.2L83.1 218.2L84.3 218.2L85.5 218.2L86.7 218.2L87.9 218.2L89.1 218.2L90.3 218.1L91.5 218.1L92.7 218.1L93.9 218.1L95.1 218.1L96.3 218.1L97.5 218.1L98.7 218.1L99.9 218.1L101.1 218.1L102.3 218.1L103.5 218.1L104.8 218.1L106.0 218.1L107.2 218.1L108.4 218.1L109.6 218.1L110.8 218.1L112.0 218.1L113.2 218.1L114.4 218.1L115.6 218.1L116.8 218.1L118.0 218.1L119.2 218.1L120.4 218.1L121.6 218.1L122.8 218.1L124.0 218.1L125.2 218.1L126.4 218.1L127.6 218.1L128.8 218.1L130.0 218.1L131.2 218.1L132.4 218.1L133.6 218.1L134.8 218.1L136.0 218.1L137.2 218.1L138.4 218.1L139.6 218.1L140.8 218.1L142.0 218.1L143.2 218.2L144.4 218.2L145.5 218.2L146.7 218.2L147.9 218.2L149.1 218.2L150.3 218.2L151.5 218.2L152.7 218.2L153.9 218.2L155.1 218.2L156.3 218.2L157.5 218.2L158.7 218.2L159.9 218.2L161.1 218.2L162.3 218.3L163.5 218.3L164.7 218.3L165.9 218.3L167.1 218.3L168.3 218.3L169.5 218.3L170.7 218.3L171.9 218.3L173.1 218.3L174.3 218.4L175.5 218.4L176.7 218.4L177.9 218.4L179.1 218.4L180.3 218.4L181.5 218.4L182.7 218.4L183.9 218.5L185.1 218.5L186.3 218.5L187.5 218.5L188.7 218.5L189.9 218.5L191.1 218.5L192.3 218.6L193.5 218.6L194.7 218.6L195.9 218.6L197.1 218.6L198.3 218.6L199.4 218.7L200.6 218.7L201.8 218.7L203.0 218.7L204.2 218.7L205.4 218.8L206.6 218.8L207.8 218.8L209.0 218.8L210.2 218.8L211.4 218.9L212.6 218.9L213.8 218.9L215.0 218.9L216.2 219.0L217.4 219.0L218.6 219.0L219.8 219.0L221.0 219.0L222.2 219.1L223.4 219.1L224.6 219.1L225.8 219.1L227.0 219.2L228.2 219.2L229.4 219.2L230.6 219.3L231.8 219.3L233.0 219.3L234.2 219.3L235.4 219.4L236.5 219.4L237.7 219.4L238.9 219.5L240.1 219.5L241.3 219.5L242.5 219.6L243.7 219.6L244.9 219.6L246.1 219.7L247.3 219.7L248.5 219.7L249.7 219.8L250.9 219.8L252.1 219.8L253.3 219.9L254.5 219.9L255.7 220.0L256.9 220.0L258.1 220.0L259.3 220.1L260.5 220.1L261.7 220.1L262.9 220.2L264.1 220.2L265.3 220.3L266.5 220.3L267.7 220.4L268.9 220.4L270.1 220.4L271.3 220.5L272.5 220.5L273.7 220.6L274.8 220.6L276.0 220.7L277.2 220.7L278.4 220.8L279.6 220.8L280.8 220.9L282.0 220.9L283.2 220.9L284.4 221.0L285.6 221.0L286.8 221.1L288.0 221.2L289.2 221.2L290.4 221.3L291.6 221.3L292.8 221.4L294.0 221.4L295.2 221.5L296.4 221.5L297.6 221.6L298.8 221.6L300.0 221.7L301.2 221.8L302.4 221.8L303.6 221.9L304.8 221.9L306.0 222.0L307.2 222.0L308.4 222.1L309.6 222.2L310.8 222.2L312.0 222.3L313.2 222.4L314.4 222.4L315.6 222.5L316.8 222.6L318.0 222.6L319.2 222.7L320.4 222.8L321.6 222.8L322.8 222.9L324.0 223.0L325.2 223.0L326.4 223.1L327.6 223.2L328.8 223.2L330.0 223.3L331.2 223.4L332.4 223.5L333.6 223.5L334.8 223.6L336.0 223.7L337.2 223.8L338.4 223.8L339.6 223.9L340.8 224.0L342.0 224.1L343.2 224.1L344.4 224.2L345.6 224.3L346.8 224.4L348.0 224.5L349.2 224.5L350.4 224.6L351.6 224.7L352.8 224.8L354.0 224.9L355.2 225.0L356.4 225.1L357.6 225.1L358.8 225.2L360.0 225.3L361.2 225.4L362.4 225.5L363.6 225.6L364.8 225.7L366.0 225.8L367.2 225.9L368.4 226.0L369.6 226.0L370.8 226.1L372.0 226.2L373.2 226.3L374.4 226.4L375.6 226.5L376.8 226.6L378.0 226.7L379.2 226.7L380.4 226.8L381.6 226.9L382.8 227.0L384.0 227.1L385.2 227.1L386.4 227.2L387.6 227.3L388.8 227.3L390.0 227.4L391.2 227.5L392.4 227.5L393.6 227.6L394.8 227.6L396.0 227.7L397.2 227.7L398.4 227.8L399.6 227.8L400.8 227.8L402.0 227.9L403.2 227.9L404.4 227.9L405.6 227.9L406.8 228.0L407.9 228.0L409.1 228.0L410.3 228.0L411.5 228.0L412.7 228.0L413.9 227.9L415.1 227.9L416.3 227.9L417.5 227.8L418.7 227.8L419.9 227.8L421.1 227.7L422.2 227.6L423.4 227.6L424.6 227.5L425.8 227.4L427.0 227.3L428.2 227.2L429.4 227.1L430.5 227.0L431.7 226.9L432.9 226.8L434.1 226.7L435.3 226.5L436.5 226.4L437.6 226.2L438.8 226.1L440.0 225.9L441.2 225.7L442.4 225.5L443.5 225.3L444.7 225.1L445.9 224.9L447.1 224.7L448.2 224.4L449.4 224.2L450.6 223.9L451.7 223.7L452.9 223.4L454.1 223.1L455.2 222.8L456.4 222.5L457.6 222.2L458.8 221.9L459.9 221.6L461.1 221.3L462.3 221.0L463.4 220.7L464.6 220.4L465.8 220.1L466.9 219.8L468.1 219.5L469.3 219.3L470.5 219.0L471.6 218.7L472.8 218.4L474.0 218.2L475.2 217.9L476.4 217.7L477.6 217.5L478.8 217.3L479.9 217.1L481.1 216.9L482.3 216.7L483.5 216.6L484.7 216.5L485.9 216.4L487.2 216.3L488.4 216.2L489.6 216.1L490.8 216.1L492.0 216.1L493.2 216.1L494.5 216.1L495.7 216.1L496.9 216.1L498.1 216.1L499.3 216.0L500.5 216.0L501.7 215.9L502.8 215.8L504.0 215.6L505.1 215.4L506.2 215.2L507.3 214.8L508.4 214.5L509.5 214.0L510.5 213.5L511.5 213.0L512.5 212.3L513.5 211.6L514.5 210.9L515.4 210.2L516.4 209.4L517.4 208.6L518.3 207.9L519.3 207.1L520.3 206.3L521.3 205.6L522.3 204.9L523.4 204.3L524.5 203.7L525.6 203.1L526.7 202.7L527.8 202.6L528.8 202.8L529.7 203.4L530.4 204.2L530.9 205.3L531.4 206.4L531.8 207.5L532.2 208.7L532.5 209.8L532.7 211.0L533.0 212.2L533.1 213.4L533.3 214.6L533.4 215.8L533.5 217.0L533.6 218.2L533.7 219.4L533.8 220.6L533.9 221.8L534.0 223.0L534.1 224.2L534.1 225.4L534.2 226.6L534.3 227.8L534.4 229.0L534.5 230.2L534.6 231.4L534.7 232.6L534.8 233.8L534.9 235.0L535.0 236.2L535.1 237.4L535.2 238.6L535.3 239.8L535.4 241.0L535.5 242.1L535.6 243.3L535.7 244.5L535.8 245.7L536.0 246.9L536.1 248.1L536.2 249.3L536.4 250.5L536.5 251.6L536.6 252.8L536.8 254.0L536.9 255.2L537.1 256.4L537.2 257.6L537.4 258.8L537.6 260.0L537.7 261.1L537.9 262.3L538.1 263.5L538.2 264.7L538.4 265.9L538.6 267.1L538.7 268.3L538.9 269.5L539.1 270.7L539.2 271.8L539.4 273.0L539.5 274.2L539.6 275.4L539.8 276.6L539.9 277.8L540.0 279.0L540.1 280.2L540.2 281.4L540.3 282.6L540.4 283.8L540.5 285.0L540.6 286.2L540.7 287.4L540.7 288.6L540.8 289.8L540.9 291.0L540.9 292.2L541.0 293.4L541.0 294.6L541.1 295.8L541.2 297.0L541.2 298.2L541.3 299.4L541.4 300.5L541.4 301.7L541.5 302.9L541.5 304.1L541.6 305.3L541.7 306.5L541.7 307.7L541.8 308.9L541.8 310.1L541.9 311.3L542.0 312.5L542.0 313.7L542.1 314.9L542.2 316.1L542.2 317.3L542.3 318.5L542.3 319.7L542.4 320.9L542.5 322.1L542.5 323.3L542.6 324.5L542.6 325.7L542.7 326.9L542.8 328.1L542.8 329.3L542.9 330.5L543.0 331.7L543.0 332.9L543.1 334.1L543.1 335.3L543.2 336.5L543.3 337.7L543.3 338.9L543.4 340.1L543.4 341.3L543.5 342.5L543.6 343.7L543.6 344.9L543.7 346.1L543.7 347.3L543.8 348.5L543.9 349.6L543.9 350.8L544.0 352.0L544.0 353.2L544.1 354.4L544.2 355.6L544.2 356.8L544.3 358.0L544.3 359.2L544.4 360.4L544.5 361.6L544.5 362.8L544.6 364.0L544.6 365.2L544.7 366.4L544.8 367.6L544.8 368.8L544.9 370.0L544.9 371.2L545.0 372.4L545.1 373.6L545.1 374.8L545.2 376.0L545.2 377.2L545.3 378.4L545.4 379.6L545.4 380.8L545.5 382.0L545.5 383.2L545.6 384.4L545.7 385.6L545.7 386.8L545.8 388.0L545.8 389.2L545.9 390.4L546.0 391.6L546.0 392.8L546.1 394.0L546.1 395.2L546.2 396.4L546.2 397.6L546.3 398.8L546.4 400.0L546.4 401.2L546.5 402.3L546.5 403.5L546.6 404.7L546.7 405.9L546.7 407.1L546.8 408.3L546.8 409.5L546.9 410.7L547.0 411.9L547.0 413.1L547.1 414.3L547.1 415.5L547.2 416.7L547.2 417.9L547.3 419.1L547.4 420.3L547.4 421.5L547.5 422.7L547.5 423.9L547.6 425.1L547.6 426.3L547.7 427.5L547.8 428.7L547.8 429.9L547.9 431.1L547.9 432.3L548.0 433.5L548.0 434.7L548.1 435.9L548.2 437.1L548.2 438.3L548.3 439.5L548.3 440.7L548.4 441.9L548.4 443.1L548.5 444.3L548.6 445.5L548.6 446.7L548.7 447.9L548.7 449.1L548.8 450.3L548.8 451.5L548.9 452.7L549.0 453.9L549.0 455.1L549.1 456.3L549.1 457.4L549.2 458.6L549.2 459.8L549.3 461.0L549.3 462.2L549.4 463.4L549.5 464.6L549.5 465.8L549.6 467.0L549.6 468.2L549.7 469.4L549.7 470.6L549.8 471.8L549.8 473.0L549.9 474.2L550.0 475.4L550.0 476.6L550.1 477.8L550.1 479.0L550.2 480.2L550.2 481.4L550.3 482.6L550.3 483.8L550.4 485.0L550.5 486.2L550.5 487.4L550.6 488.6L550.6 489.8L550.7 491.0L550.7 492.2L550.8 493.4L550.8 494.6L550.9 495.8L550.9 497.0L551.0 498.2L551.1 499.4L551.1 500.6L551.2 501.8L551.2 503.0L551.3 504.2L551.3 505.4L551.4 506.6L551.4 507.8L551.5 509.0L551.5 510.2L551.6 511.4L551.6 512.6L551.7 513.8L551.7 515.0L551.8 516.1L551.9 517.3L551.9 518.5L552.0 519.7L552.0 520.9L552.1 522.1L552.1 523.3L552.2 524.5L552.2 525.7L552.3 526.9L552.3 528.1L552.4 529.3L552.4 530.5L552.5 531.7L552.5 532.9L552.6 534.1L552.6 535.3L552.7 536.5L552.7 537.7L552.8 538.9L552.8 540.1L552.9 541.3L552.9 542.5L553.0 543.7L553.0 544.9L553.1 546.1L553.2 547.3L553.2 548.5L553.3 549.7L553.3 550.9L553.4 552.1L553.4 553.3L553.5 554.5L553.5 555.7L553.6 556.9L553.6 558.1L553.7 559.3L553.7 560.5L553.8 561.7L553.8 562.9L553.9 564.1L553.9 565.3L554.0 566.5L554.0 567.7L554.1 568.9L554.1 570.1L554.2 571.3L554.2 572.5L554.3 573.7L554.3 574.9L554.4 576.1L554.4 577.3L554.5 578.5L554.5 579.6L554.6 580.8L554.6 582.0L554.6 583.2L554.7 584.4L554.7 585.6L554.8 586.8L554.8 588.0L554.9 589.2L554.9 590.4L555.0 591.6L555.0 592.8L555.1 594.0L555.1 595.2L555.2 596.4L555.2 597.6L555.3 598.8L555.3 600.0L555.4 601.2L555.4 602.4L555.5 603.6L555.5 604.8L555.6 606.0L555.6 607.2L555.7 608.4L555.7 609.6L555.7 610.8L555.8 612.0"/>
<path stroke="#9a3038" d="M67.5 218.3L68.7 218.2L69.9 218.2L71.1 218.2L72.3 218.2L73.5 218.2L74.7 218.2L75.9 218.2L77.1 218.2L78.3 218.1L79.5 218.1L80.7 218.1L81.9 218.1L83.1 218.1L84.3 218.1L85.5 218.1L86.7 218.1L87.9 218.1L89.1 218.1L90.3 218.0L91.5 218.0L92.7 218.0L93.9 218.0L95.1 218.0L96.3 218.0L97.5 218.0L98.7 218.0L99.9 218.0L101.1 218.0L102.3 218.0L103.5 218.0L104.7 218.0L105.9 218.0L107.1 218.0L108.3 218.0L109.5 218.0L110.7 218.0L111.9 218.0L113.1 218.0L114.3 218.0L115.5 218.0L116.7 218.0L117.9 218.0L119.1 218.0L120.3 218.0L121.5 218.0L122.7 218.0L123.9 218.0L125.1 218.0L126.3 218.0L127.5 218.0L128.7 218.0L129.9 218.0L131.1 218.0L132.3 218.0L133.5 218.0L134.7 218.0L135.9 218.0L137.1 218.0L138.3 218.0L139.5 218.0L140.7 218.0L141.9 218.0L143.1 218.0L144.3 218.0L145.5 218.0L146.7 218.1L147.9 218.1L149.1 218.1L150.3 218.1L151.5 218.1L152.7 218.1L153.9 218.1L155.1 218.1L156.3 218.1L157.5 218.1L158.7 218.1L159.9 218.2L161.1 218.2L162.3 218.2L163.5 218.2L164.7 218.2L165.9 218.2L167.1 218.2L168.3 218.2L169.5 218.2L170.7 218.3L171.9 218.3L173.1 218.3L174.3 218.3L175.5 218.3L176.7 218.3L177.9 218.3L179.1 218.4L180.3 218.4L181.5 218.4L182.7 218.4L183.9 218.4L185.1 218.4L186.3 218.5L187.5 218.5L188.6 218.5L189.8 218.5L191.0 218.5L192.2 218.5L193.4 218.6L194.6 218.6L195.8 218.6L197.0 218.6L198.2 218.6L199.4 218.7L200.6 218.7L201.8 218.7L203.0 218.7L204.2 218.7L205.4 218.8L206.6 218.8L207.8 218.8L209.0 218.8L210.2 218.8L211.4 218.9L212.6 218.9L213.8 218.9L215.0 218.9L216.2 219.0L217.4 219.0L218.6 219.0L219.8 219.0L221.0 219.0L222.2 219.1L223.4 219.1L224.6 219.1L225.8 219.1L227.0 219.2L228.2 219.2L229.4 219.2L230.6 219.2L231.8 219.3L233.0 219.3L234.2 219.3L235.4 219.4L236.6 219.4L237.8 219.4L239.0 219.4L240.2 219.5L241.4 219.5L242.6 219.5L243.8 219.6L245.0 219.6L246.2 219.6L247.4 219.6L248.6 219.7L249.8 219.7L251.0 219.7L252.2 219.8L253.4 219.8L254.6 219.8L255.7 219.8L256.9 219.9L258.1 219.9L259.3 219.9L260.5 220.0L261.7 220.0L262.9 220.0L264.1 220.1L265.3 220.1L266.5 220.1L267.7 220.2L268.9 220.2L270.1 220.2L271.3 220.3L272.5 220.3L273.7 220.3L274.9 220.4L276.1 220.4L277.3 220.4L278.5 220.5L279.7 220.5L280.9 220.5L282.1 220.6L283.3 220.6L284.5 220.7L285.7 220.7L286.9 220.7L288.1 220.8L289.3 220.8L290.5 220.8L291.7 220.9L292.9 220.9L294.1 220.9L295.3 221.0L296.5 221.0L297.7 221.1L298.9 221.1L300.1 221.1L301.3 221.2L302.5 221.2L303.7 221.3L304.9 221.3L306.1 221.3L307.3 221.4L308.5 221.4L309.7 221.4L310.9 221.5L312.1 221.5L313.3 221.6L314.5 221.6L315.7 221.6L316.9 221.7L318.1 221.7L319.3 221.8L320.5 221.8L321.7 221.9L322.9 221.9L324.1 221.9L325.3 222.0L326.5 222.0L327.7 222.1L328.9 222.1L330.1 222.2L331.3 222.2L332.5 222.2L333.7 222.3L334.9 222.3L336.1 222.4L337.3 222.4L338.5 222.5L339.7 222.5L340.9 222.5L342.1 222.6L343.3 222.6L344.5 222.7L345.7 222.7L346.9 222.8L348.1 222.8L349.3 222.9L350.5 222.9L351.7 222.9L352.9 223.0L354.1 223.0L355.3 223.1L356.5 223.1L357.7 223.2L358.9 223.2L360.1 223.3L361.3 223.3L362.5 223.4L363.7 223.4L364.9 223.5L366.1 223.5L367.3 223.5L368.5 223.6L369.7 223.6L370.9 223.7L372.1 223.7L373.3 223.7L374.5 223.8L375.7 223.8L376.9 223.8L378.1 223.9L379.3 223.9L380.5 223.9L381.7 223.9L382.9 223.9L384.1 224.0L385.3 224.0L386.5 224.0L387.7 224.0L388.9 224.0L390.1 223.9L391.3 223.9L392.5 223.9L393.7 223.9L394.9 223.8L396.1 223.8L397.3 223.8L398.5 223.7L399.6 223.6L400.8 223.6L402.0 223.5L403.2 223.4L404.4 223.3L405.6 223.3L406.8 223.1L408.0 223.0L409.2 222.9L410.4 222.8L411.5 222.7L412.7 222.5L413.9 222.4L415.1 222.2L416.3 222.0L417.5 221.9L418.6 221.7L419.8 221.5L421.0 221.3L422.2 221.0L423.4 220.8L424.5 220.6L425.7 220.3L426.9 220.0L428.1 219.8L429.2 219.5L430.4 219.2L431.6 218.9L432.7 218.6L433.9 218.3L435.0 217.9L436.2 217.6L437.4 217.3L438.5 216.9L439.6 216.5L440.8 216.1L441.9 215.8L443.1 215.4L444.2 215.0L445.3 214.5L446.5 214.1L447.6 213.7L448.7 213.2L449.8 212.8L450.9 212.3L452.0 211.9L453.1 211.4L454.2 210.9L455.3 210.4L456.4 209.9L457.5 209.4L458.6 208.9L459.6 208.4L460.7 207.9L461.8 207.4L462.9 206.8L464.0 206.3L465.0 205.8L466.1 205.3L467.2 204.8L468.3 204.3L469.4 203.8L470.4 203.2L471.5 202.7L472.6 202.2L473.7 201.7L474.8 201.3L475.9 200.8L477.0 200.3L478.1 199.8L479.2 199.4L480.4 198.9L481.5 198.4L482.6 198.0L483.7 197.5L484.8 197.0L485.9 196.5L486.9 195.9L488.0 195.4L489.1 194.8L490.1 194.2L491.1 193.6L492.2 193.0L493.2 192.3L494.1 191.6L495.1 190.9L496.1 190.2L497.0 189.4L497.9 188.6L498.8 187.8L499.7 187.0L500.6 186.2L501.4 185.4L502.3 184.5L503.1 183.6L503.9 182.7L504.6 181.8L505.4 180.9L506.1 179.9L506.8 179.0L507.5 178.0L508.2 177.0L508.8 176.1L509.5 175.1L510.1 174.0L510.7 173.0L511.3 172.0L512.0 171.0L512.6 169.9L513.1 168.9L513.7 167.9L514.3 166.8L514.9 165.8L515.5 164.7L516.1 163.6L516.7 162.6L517.3 161.5L518.0 160.5L518.6 159.4L519.2 158.3L519.9 157.3L520.6 156.2L521.3 155.2L522.0 154.3L522.8 153.4L523.7 152.7L524.6 152.2L525.6 152.2L526.5 152.7L527.2 153.4L527.8 154.4L528.2 155.5L528.5 156.8L528.8 158.0L528.9 159.3L529.1 160.6L529.3 161.9L529.5 163.1L529.7 164.3L529.9 165.5L530.1 166.7L530.3 167.9L530.4 169.1L530.6 170.2L530.8 171.4L531.0 172.6L531.2 173.8L531.3 174.9L531.5 176.1L531.6 177.3L531.8 178.5L531.9 179.7L532.1 180.8L532.2 182.0L532.4 183.2L532.5 184.4L532.6 185.6L532.7 186.8L532.9 188.0L533.0 189.1L533.1 190.3L533.2 191.5L533.3 192.7L533.4 193.9L533.5 195.1L533.6 196.3L533.7 197.5L533.8 198.7L533.9 199.9L534.0 201.1L534.1 202.3L534.2 203.5L534.2 204.7L534.3 205.9L534.4 207.1L534.5 208.3L534.6 209.5L534.6 210.7L534.7 211.9L534.8 213.1L534.9 214.3L534.9 215.5L535.0 216.7L535.1 217.9L535.2 219.1L535.2 220.3L535.3 221.5L535.4 222.7L535.5 223.8L535.5 225.0L535.6 226.2L535.7 227.4L535.7 228.6L535.8 229.8L535.9 231.0L535.9 232.2L536.0 233.4L536.1 234.6L536.2 235.8L536.2 237.0L536.3 238.2L536.4 239.4L536.4 240.6L536.5 241.8L536.6 243.0L536.6 244.2L536.7 245.4L536.8 246.6L536.8 247.8L536.9 249.0L537.0 250.2L537.0 251.4L537.1 252.6L537.2 253.8L537.2 255.0L537.3 256.2L537.4 257.4L537.4 258.6L537.5 259.8L537.6 261.0L537.6 262.2L537.7 263.4L537.8 264.6L537.8 265.8L537.9 267.0L537.9 268.2L538.0 269.4L538.1 270.6L538.1 271.8L538.2 273.0L538.3 274.2L538.3 275.4L538.4 276.6L538.4 277.8L538.5 279.0L538.6 280.2L538.6 281.4L538.7 282.6L538.8 283.8L538.8 285.0L538.9 286.1L538.9 287.3L539.0 288.5L539.1 289.7L539.1 290.9L539.2 292.1L539.3 293.3L539.3 294.5L539.4 295.7L539.4 296.9L539.5 298.1L539.6 299.3L539.6 300.5L539.7 301.7L539.7 302.9L539.8 304.1L539.9 305.3L539.9 306.5L540.0 307.7L540.0 308.9L540.1 310.1L540.2 311.3L540.2 312.5L540.3 313.7L540.4 314.9L540.4 316.1L540.5 317.3L540.5 318.5L540.6 319.7L540.7 320.9L540.7 322.1L540.8 323.3L540.8 324.5L540.9 325.7L541.0 326.9L541.0 328.1L541.1 329.3L541.1 330.5L541.2 331.6L541.3 332.8L541.3 334.0L541.4 335.2L541.4 336.4L541.5 337.6L541.6 338.8L541.6 340.0L541.7 341.2L541.7 342.4L541.8 343.6L541.9 344.8L541.9 346.0L542.0 347.2L542.0 348.4L542.1 349.6L542.1 350.8L542.2 352.0L542.3 353.2L542.3 354.4L542.4 355.6L542.4 356.8L542.5 358.0L542.6 359.2L542.6 360.4L542.7 361.6L542.7 362.8L542.8 364.0L542.9 365.2L542.9 366.4L543.0 367.6L543.0 368.8L543.1 370.0L543.2 371.2L543.2 372.4L543.3 373.6L543.3 374.8L543.4 376.0L543.4 377.2L543.5 378.4L543.6 379.6L543.6 380.8L543.7 382.0L543.7 383.1L543.8 384.3L543.9 385.5L543.9 386.7L544.0 387.9L544.0 389.1L544.1 390.3L544.2 391.5L544.2 392.7L544.3 393.9L544.3 395.1L544.4 396.3L544.4 397.5L544.5 398.7L544.6 399.9L544.6 401.1L544.7 402.3L544.7 403.5L544.8 404.7L544.8 405.9L544.9 407.1L545.0 408.3L545.0 409.5L545.1 410.7L545.1 411.9L545.2 413.1L545.3 414.3L545.3 415.5L545.4 416.7L545.4 417.9L545.5 419.1L545.5 420.3L545.6 421.5L545.7 422.7L545.7 423.9L545.8 425.1L545.8 426.3L545.9 427.5L545.9 428.7L546.0 429.9L546.1 431.1L546.1 432.3L546.2 433.5L546.2 434.7L546.3 435.9L546.3 437.1L546.4 438.3L546.4 439.5L546.5 440.7L546.6 441.9L546.6 443.0L546.7 444.2L546.7 445.4L546.8 446.6L546.8 447.8L546.9 449.0L547.0 450.2L547.0 451.4L547.1 452.6L547.1 453.8L547.2 455.0L547.2 456.2L547.3 457.4L547.3 458.6L547.4 459.8L547.5 461.0L547.5 462.2L547.6 463.4L547.6 464.6L547.7 465.8L547.7 467.0L547.8 468.2L547.8 469.4L547.9 470.6L547.9 471.8L548.0 473.0L548.1 474.2L548.1 475.4L548.2 476.6L548.2 477.8L548.3 479.0L548.3 480.2L548.4 481.4L548.4 482.6L548.5 483.8L548.5 485.0L548.6 486.2L548.7 487.4L548.7 488.6L548.8 489.8L548.8 491.0L548.9 492.2L548.9 493.4L549.0 494.6L549.0 495.8L549.1 497.0L549.1 498.2L549.2 499.4L549.2 500.6L549.3 501.8L549.3 503.0L549.4 504.2L549.5 505.4L549.5 506.6L549.6 507.8L549.6 509.0L549.7 510.1L549.7 511.3L549.8 512.5L549.8 513.7L549.9 514.9L549.9 516.1L550.0 517.3L550.0 518.5L550.1 519.7L550.1 520.9L550.2 522.1L550.2 523.3L550.3 524.5L550.3 525.7L550.4 526.9L550.4 528.1L550.5 529.3L550.5 530.5L550.6 531.7L550.6 532.9L550.7 534.1L550.7 535.3L550.8 536.5L550.9 537.7L550.9 538.9L551.0 540.1L551.0 541.3L551.1 542.5L551.1 543.7L551.2 544.9L551.2 546.1L551.3 547.3L551.3 548.5L551.4 549.7L551.4 550.9L551.5 552.1L551.5 553.3L551.6 554.5L551.6 555.7L551.7 556.9L551.7 558.1L551.7 559.3L551.8 560.5L551.8 561.7L551.9 562.9L551.9 564.1L552.0 565.3L552.0 566.5L552.1 567.7L552.1 568.9L552.2 570.1L552.2 571.3L552.3 572.5L552.3 573.7L552.4 574.9L552.4 576.1L552.5 577.3L552.5 578.4L552.6 579.6L552.6 580.8L552.7 582.0L552.7 583.2L552.8 584.4L552.8 585.6L552.9 586.8L552.9 588.0L552.9 589.2L553.0 590.4L553.0 591.6L553.1 592.8L553.1 594.0L553.2 595.2L553.2 596.4L553.3 597.6L553.3 598.8L553.4 600.0L553.4 601.2L553.5 602.4L553.5 603.6L553.6 604.8L553.6 606.0L553.6 607.2L553.7 608.4L553.7 609.6L553.8 610.8L553.8 612.0"/>
<path stroke="#1818b0" d="M67.5 218.2L68.7 218.2L69.9 218.2L71.1 218.2L72.3 218.2L73.5 218.2L74.7 218.2L75.9 218.2L77.1 218.2L78.3 218.2L79.5 218.2L80.7 218.2L81.9 218.2L83.1 218.2L84.2 218.2L85.4 218.2L86.6 218.2L87.8 218.2L89.0 218.2L90.2 218.2L91.4 218.2L92.6 218.2L93.8 218.2L95.0 218.2L96.2 218.2L97.4 218.2L98.6 218.2L99.8 218.2L101.0 218.2L102.2 218.2L103.4 218.2L104.6 218.2L105.8 218.2L107.0 218.2L108.2 218.2L109.4 218.2L110.6 218.2L111.8 218.2L113.0 218.2L114.2 218.2L115.4 218.2L116.6 218.2L117.8 218.2L119.0 218.2L120.2 218.2L121.4 218.2L122.6 218.2L123.8 218.2L125.0 218.2L126.2 218.2L127.4 218.2L128.6 218.2L129.8 218.2L131.0 218.2L132.2 218.2L133.4 218.2L134.6 218.3L135.8 218.3L137.0 218.3L138.2 218.3L139.4 218.3L140.6 218.3L141.8 218.3L143.0 218.3L144.2 218.3L145.4 218.3L146.6 218.3L147.8 218.3L149.0 218.3L150.2 218.3L151.4 218.3L152.6 218.3L153.8 218.3L155.0 218.3L156.2 218.3L157.4 218.3L158.6 218.3L159.8 218.3L161.0 218.3L162.2 218.3L163.4 218.3L164.6 218.3L165.8 218.4L167.0 218.4L168.2 218.4L169.4 218.4L170.6 218.4L171.8 218.4L173.0 218.4L174.2 218.4L175.4 218.4L176.6 218.4L177.8 218.4L179.0 218.4L180.2 218.4L181.4 218.5L182.6 218.5L183.8 218.5L185.0 218.5L186.2 218.5L187.4 218.5L188.6 218.5L189.8 218.5L191.0 218.5L192.2 218.6L193.4 218.6L194.6 218.6L195.8 218.6L197.0 218.6L198.2 218.6L199.4 218.6L200.6 218.7L201.8 218.7L203.0 218.7L204.2 218.7L205.4 218.7L206.6 218.7L207.8 218.8L209.0 218.8L210.2 218.8L211.4 218.8L212.5 218.8L213.7 218.9L214.9 218.9L216.1 218.9L217.3 218.9L218.5 218.9L219.7 219.0L220.9 219.0L222.1 219.0L223.3 219.0L224.5 219.1L225.7 219.1L226.9 219.1L228.1 219.1L229.3 219.2L230.5 219.2L231.7 219.2L232.9 219.2L234.1 219.3L235.3 219.3L236.5 219.3L237.7 219.4L238.9 219.4L240.1 219.4L241.3 219.4L242.5 219.5L243.7 219.5L244.9 219.5L246.1 219.6L247.3 219.6L248.5 219.6L249.7 219.7L250.9 219.7L252.1 219.7L253.3 219.8L254.5 219.8L255.7 219.9L256.9 219.9L258.1 219.9L259.3 220.0L260.5 220.0L261.7 220.1L262.9 220.1L264.0 220.1L265.2 220.2L266.4 220.2L267.6 220.3L268.8 220.3L270.0 220.4L271.2 220.4L272.4 220.5L273.6 220.5L274.8 220.5L276.0 220.6L277.2 220.6L278.4 220.7L279.6 220.7L280.8 220.8L282.0 220.8L283.2 220.9L284.4 221.0L285.6 221.0L286.8 221.1L288.0 221.1L289.1 221.2L290.3 221.2L291.5 221.3L292.7 221.3L293.9 221.4L295.1 221.5L296.3 221.5L297.5 221.6L298.7 221.6L299.9 221.7L301.1 221.7L302.3 221.8L303.5 221.9L304.7 221.9L305.9 222.0L307.1 222.1L308.3 222.1L309.5 222.2L310.7 222.3L311.8 222.3L313.0 222.4L314.2 222.5L315.4 222.5L316.6 222.6L317.8 222.7L319.0 222.7L320.2 222.8L321.4 222.9L322.6 222.9L323.8 223.0L325.0 223.1L326.2 223.2L327.4 223.2L328.6 223.3L329.8 223.4L331.0 223.4L332.2 223.5L333.4 223.6L334.6 223.7L335.8 223.8L337.0 223.8L338.2 223.9L339.4 224.0L340.5 224.1L341.7 224.1L342.9 224.2L344.1 224.3L345.3 224.4L346.5 224.5L347.7 224.5L348.9 224.6L350.1 224.7L351.3 224.8L352.5 224.9L353.7 225.0L354.9 225.0L356.1 225.1L357.3 225.2L358.5 225.3L359.7 225.4L360.9 225.5L362.1 225.6L363.3 225.7L364.5 225.7L365.7 225.8L366.9 225.9L368.1 226.0L369.3 226.1L370.5 226.2L371.7 226.3L372.9 226.4L374.1 226.4L375.3 226.5L376.5 226.6L377.7 226.7L378.9 226.8L380.1 226.8L381.3 226.9L382.5 227.0L383.7 227.1L384.9 227.1L386.1 227.2L387.3 227.3L388.5 227.3L389.7 227.4L390.9 227.5L392.1 227.5L393.3 227.6L394.5 227.6L395.7 227.7L396.9 227.7L398.1 227.7L399.3 227.8L400.5 227.8L401.7 227.8L402.9 227.9L404.1 227.9L405.3 227.9L406.5 227.9L407.7 227.9L408.9 227.9L410.1 227.9L411.3 227.9L412.5 227.9L413.7 227.9L414.9 227.8L416.1 227.8L417.2 227.8L418.4 227.7L419.6 227.7L420.8 227.6L422.0 227.6L423.2 227.5L424.4 227.4L425.6 227.4L426.8 227.3L428.0 227.2L429.1 227.1L430.3 227.0L431.5 226.9L432.7 226.8L433.9 226.6L435.1 226.5L436.3 226.3L437.4 226.2L438.6 226.0L439.8 225.9L441.0 225.7L442.2 225.5L443.4 225.3L444.5 225.1L445.7 224.9L446.9 224.7L448.1 224.5L449.2 224.2L450.4 224.0L451.6 223.7L452.8 223.5L453.9 223.2L455.1 222.9L456.3 222.6L457.5 222.4L458.6 222.1L459.8 221.8L461.0 221.5L462.1 221.2L463.3 220.9L464.5 220.6L465.7 220.3L466.8 220.0L468.0 219.7L469.2 219.4L470.3 219.2L471.5 218.9L472.7 218.6L473.9 218.4L475.0 218.1L476.2 217.9L477.4 217.6L478.5 217.4L479.7 217.2L480.9 217.0L482.1 216.8L483.3 216.6L484.4 216.5L485.6 216.3L486.8 216.2L488.0 216.1L489.2 216.0L490.4 216.0L491.5 215.9L492.7 215.9L493.9 215.8L495.1 215.8L496.3 215.8L497.5 215.8L498.7 215.8L499.9 215.8L501.1 215.8L502.4 215.7L503.6 215.7L504.8 215.6L506.0 215.6L507.2 215.5L508.4 215.3L509.6 215.1L510.7 214.8L511.8 214.5L512.9 214.0L513.9 213.5L514.9 212.9L515.9 212.2L516.8 211.5L517.8 210.8L518.7 210.0L519.6 209.2L520.6 208.3L521.5 207.5L522.5 206.8L523.6 206.1L524.7 205.5L525.9 205.0L527.1 204.8L528.2 204.8L529.1 205.3L529.9 206.0L530.6 206.9L531.1 207.9L531.6 208.9L532.1 210.0L532.4 211.1L532.7 212.3L533.0 213.5L533.2 214.6L533.4 215.8L533.5 217.1L533.6 218.3L533.7 219.5L533.8 220.7L533.9 221.9L534.0 223.2L534.1 224.4L534.1 225.6L534.2 226.8L534.3 228.0L534.4 229.2L534.5 230.4L534.6 231.6L534.7 232.8L534.8 234.0L534.9 235.2L535.0 236.4L535.1 237.6L535.2 238.8L535.3 239.9L535.4 241.1L535.5 242.3L535.6 243.5L535.7 244.7L535.8 245.9L535.9 247.0L536.0 248.2L536.1 249.4L536.3 250.6L536.4 251.8L536.5 253.0L536.6 254.1L536.8 255.3L536.9 256.5L537.0 257.7L537.2 258.9L537.3 260.1L537.5 261.3L537.6 262.5L537.7 263.7L537.9 264.8L538.0 266.0L538.1 267.2L538.3 268.4L538.4 269.6L538.5 270.8L538.7 272.0L538.8 273.2L538.9 274.4L539.0 275.6L539.1 276.8L539.3 278.0L539.4 279.2L539.5 280.4L539.5 281.6L539.6 282.8L539.7 284.0L539.8 285.2L539.9 286.4L539.9 287.6L540.0 288.8L540.1 290.0L540.1 291.2L540.2 292.4L540.3 293.6L540.3 294.8L540.4 296.0L540.4 297.2L540.5 298.4L540.6 299.5L540.6 300.7L540.7 301.9L540.8 303.1L540.8 304.3L540.9 305.5L540.9 306.7L541.0 307.9L541.1 309.1L541.1 310.3L541.2 311.5L541.3 312.7L541.3 313.9L541.4 315.1L541.4 316.3L541.5 317.5L541.6 318.7L541.6 319.9L541.7 321.1L541.7 322.3L541.8 323.5L541.9 324.7L541.9 325.9L542.0 327.1L542.1 328.3L542.1 329.5L542.2 330.7L542.2 331.9L542.3 333.1L542.4 334.3L542.4 335.4L542.5 336.6L542.5 337.8L542.6 339.0L542.7 340.2L542.7 341.4L542.8 342.6L542.8 343.8L542.9 345.0L543.0 346.2L543.0 347.4L543.1 348.6L543.1 349.8L543.2 351.0L543.3 352.2L543.3 353.4L543.4 354.6L543.5 355.8L543.5 357.0L543.6 358.2L543.6 359.4L543.7 360.6L543.8 361.8L543.8 363.0L543.9 364.2L543.9 365.4L544.0 366.6L544.0 367.8L544.1 369.0L544.2 370.2L544.2 371.4L544.3 372.5L544.3 373.7L544.4 374.9L544.5 376.1L544.5 377.3L544.6 378.5L544.6 379.7L544.7 380.9L544.8 382.1L544.8 383.3L544.9 384.5L544.9 385.7L545.0 386.9L545.1 388.1L545.1 389.3L545.2 390.5L545.2 391.7L545.3 392.9L545.3 394.1L545.4 395.3L545.5 396.5L545.5 397.7L545.6 398.9L545.6 400.1L545.7 401.3L545.8 402.5L545.8 403.7L545.9 404.9L545.9 406.1L546.0 407.3L546.0 408.5L546.1 409.7L546.2 410.9L546.2 412.0L546.3 413.2L546.3 414.4L546.4 415.6L546.5 416.8L546.5 418.0L546.6 419.2L546.6 420.4L546.7 421.6L546.7 422.8L546.8 424.0L546.9 425.2L546.9 426.4L547.0 427.6L547.0 428.8L547.1 430.0L547.1 431.2L547.2 432.4L547.3 433.6L547.3 434.8L547.4 436.0L547.4 437.2L547.5 438.4L547.5 439.6L547.6 440.8L547.6 442.0L547.7 443.2L547.8 444.4L547.8 445.6L547.9 446.8L547.9 448.0L548.0 449.2L548.0 450.4L548.1 451.6L548.2 452.8L548.2 453.9L548.3 455.1L548.3 456.3L548.4 457.5L548.4 458.7L548.5 459.9L548.5 461.1L548.6 462.3L548.7 463.5L548.7 464.7L548.8 465.9L548.8 467.1L548.9 468.3L548.9 469.5L549.0 470.7L549.0 471.9L549.1 473.1L549.1 474.3L549.2 475.5L549.3 476.7L549.3 477.9L549.4 479.1L549.4 480.3L549.5 481.5L549.5 482.7L549.6 483.9L549.6 485.1L549.7 486.3L549.7 487.5L549.8 488.7L549.9 489.9L549.9 491.1L550.0 492.3L550.0 493.5L550.1 494.7L550.1 495.9L550.2 497.1L550.2 498.2L550.3 499.4L550.3 500.6L550.4 501.8L550.4 503.0L550.5 504.2L550.5 505.4L550.6 506.6L550.7 507.8L550.7 509.0L550.8 510.2L550.8 511.4L550.9 512.6L550.9 513.8L551.0 515.0L551.0 516.2L551.1 517.4L551.1 518.6L551.2 519.8L551.2 521.0L551.3 522.2L551.3 523.4L551.4 524.6L551.4 525.8L551.5 527.0L551.5 528.2L551.6 529.4L551.6 530.6L551.7 531.8L551.7 533.0L551.8 534.2L551.9 535.4L551.9 536.6L552.0 537.8L552.0 539.0L552.1 540.2L552.1 541.4L552.2 542.6L552.2 543.7L552.3 544.9L552.3 546.1L552.4 547.3L552.4 548.5L552.5 549.7L552.5 550.9L552.6 552.1L552.6 553.3L552.7 554.5L552.7 555.7L552.8 556.9L552.8 558.1L552.9 559.3L552.9 560.5L553.0 561.7L553.0 562.9L553.1 564.1L553.1 565.3L553.2 566.5L553.2 567.7L553.3 568.9L553.3 570.1L553.4 571.3L553.4 572.5L553.5 573.7L553.5 574.9L553.6 576.1L553.6 577.3L553.7 578.5L553.7 579.7L553.8 580.9L553.8 582.1L553.8 583.3L553.9 584.5L553.9 585.7L554.0 586.9L554.0 588.1L554.1 589.2L554.1 590.4L554.2 591.6L554.2 592.8L554.3 594.0L554.3 595.2L554.4 596.4L554.4 597.6L554.5 598.8L554.5 600.0L554.6 601.2L554.6 602.4L554.7 603.6L554.7 604.8L554.8 606.0L554.8 607.2L554.8 608.4L554.9 609.6L554.9 610.8L555.0 612.0"/>
<path stroke="#ff3030" d="M67.5 218.2L68.7 218.2L69.9 218.2L71.1 218.2L72.3 218.2L73.5 218.2L74.7 218.2L75.9 218.2L77.1 218.2L78.3 218.2L79.5 218.1L80.7 218.1L81.9 218.1L83.1 218.1L84.3 218.1L85.5 218.1L86.7 218.1L87.9 218.1L89.1 218.1L90.3 218.1L91.5 218.1L92.7 218.1L93.9 218.1L95.1 218.1L96.3 218.1L97.5 218.1L98.7 218.1L99.9 218.1L101.1 218.1L102.3 218.1L103.5 218.1L104.7 218.0L105.9 218.0L107.1 218.0L108.3 218.0L109.5 218.0L110.7 218.0L111.9 218.0L113.1 218.0L114.3 218.0L115.5 218.0L116.7 218.0L117.9 218.0L119.1 218.0L120.3 218.0L121.5 218.0L122.7 218.0L123.9 218.0L125.1 218.0L126.3 218.0L127.5 218.0L128.7 218.0L129.9 218.0L131.1 218.0L132.3 218.0L133.5 218.0L134.7 218.0L135.9 218.1L137.1 218.1L138.3 218.1L139.5 218.1L140.7 218.1L141.9 218.1L143.1 218.1L144.3 218.1L145.5 218.1L146.7 218.1L147.9 218.1L149.1 218.1L150.3 218.1L151.5 218.1L152.7 218.1L153.9 218.1L155.1 218.1L156.3 218.1L157.5 218.1L158.7 218.1L159.9 218.1L161.1 218.2L162.3 218.2L163.5 218.2L164.7 218.2L165.9 218.2L167.1 218.2L168.3 218.2L169.5 218.2L170.7 218.2L171.9 218.2L173.1 218.2L174.3 218.2L175.4 218.2L176.6 218.3L177.8 218.3L179.0 218.3L180.2 218.3L181.4 218.3L182.6 218.3L183.8 218.3L185.0 218.3L186.2 218.3L187.4 218.4L188.6 218.4L189.8 218.4L191.0 218.4L192.2 218.4L193.4 218.4L194.6 218.4L195.8 218.4L197.0 218.5L198.2 218.5L199.4 218.5L200.6 218.5L201.8 218.5L203.0 218.5L204.2 218.5L205.4 218.5L206.6 218.6L207.8 218.6L209.0 218.6L210.2 218.6L211.4 218.6L212.6 218.6L213.8 218.7L215.0 218.7L216.2 218.7L217.4 218.7L218.6 218.7L219.8 218.7L221.0 218.8L222.2 218.8L223.4 218.8L224.6 218.8L225.8 218.8L227.0 218.8L228.2 218.9L229.4 218.9L230.6 218.9L231.8 218.9L233.0 218.9L234.2 219.0L235.4 219.0L236.6 219.0L237.8 219.0L239.0 219.0L240.2 219.1L241.4 219.1L242.6 219.1L243.8 219.1L245.0 219.1L246.2 219.2L247.4 219.2L248.6 219.2L249.8 219.2L251.0 219.2L252.2 219.3L253.4 219.3L254.6 219.3L255.8 219.3L257.0 219.4L258.2 219.4L259.4 219.4L260.6 219.4L261.8 219.5L263.0 219.5L264.2 219.5L265.4 219.5L266.6 219.6L267.8 219.6L269.0 219.6L270.2 219.6L271.4 219.7L272.6 219.7L273.8 219.7L275.0 219.7L276.2 219.8L277.4 219.8L278.6 219.8L279.8 219.8L281.0 219.9L282.2 219.9L283.4 219.9L284.6 219.9L285.8 220.0L287.0 220.0L288.2 220.0L289.4 220.1L290.6 220.1L291.8 220.1L293.0 220.2L294.2 220.2L295.4 220.2L296.6 220.2L297.8 220.3L299.0 220.3L300.2 220.3L301.4 220.4L302.6 220.4L303.8 220.4L305.0 220.5L306.2 220.5L307.4 220.5L308.6 220.6L309.8 220.6L311.0 220.6L312.2 220.6L313.4 220.7L314.6 220.7L315.8 220.7L316.9 220.8L318.1 220.8L319.3 220.9L320.5 220.9L321.7 220.9L322.9 221.0L324.1 221.0L325.3 221.0L326.5 221.1L327.7 221.1L328.9 221.1L330.1 221.2L331.3 221.2L332.5 221.2L333.7 221.3L334.9 221.3L336.1 221.3L337.3 221.4L338.5 221.4L339.7 221.5L340.9 221.5L342.1 221.5L343.3 221.6L344.5 221.6L345.7 221.7L346.9 221.7L348.1 221.7L349.3 221.8L350.5 221.8L351.7 221.8L352.9 221.9L354.1 221.9L355.3 222.0L356.5 222.0L357.7 222.1L358.9 222.1L360.1 222.1L361.3 222.2L362.5 222.2L363.7 222.3L364.9 222.3L366.1 222.3L367.3 222.4L368.5 222.4L369.7 222.5L370.9 222.5L372.1 222.5L373.3 222.6L374.5 222.6L375.7 222.6L376.9 222.7L378.1 222.7L379.3 222.7L380.5 222.7L381.7 222.7L382.9 222.8L384.1 222.8L385.3 222.8L386.5 222.8L387.7 222.8L388.9 222.8L390.1 222.8L391.3 222.8L392.5 222.8L393.7 222.8L394.9 222.8L396.1 222.7L397.3 222.7L398.5 222.7L399.7 222.6L400.9 222.6L402.1 222.5L403.3 222.5L404.5 222.4L405.7 222.4L406.9 222.3L408.0 222.2L409.2 222.1L410.4 222.0L411.6 221.9L412.8 221.8L414.0 221.7L415.2 221.6L416.4 221.5L417.6 221.4L418.8 221.2L420.0 221.1L421.2 220.9L422.4 220.7L423.6 220.6L424.8 220.4L426.0 220.1L427.1 219.9L428.3 219.6L429.5 219.3L430.6 219.0L431.8 218.6L432.9 218.2L434.0 217.8L435.1 217.3L436.2 216.8L437.3 216.3L438.4 215.8L439.5 215.3L440.6 214.8L441.7 214.3L442.8 213.9L443.9 213.5L445.0 213.1L446.1 212.7L447.2 212.3L448.3 211.9L449.5 211.5L450.6 211.2L451.7 210.8L452.9 210.4L454.0 210.0L455.2 209.7L456.3 209.3L457.5 208.9L458.7 208.6L459.8 208.2L461.0 207.9L462.2 207.6L463.4 207.3L464.5 207.0L465.7 206.7L466.9 206.5L468.1 206.3L469.3 206.1L470.5 205.9L471.6 205.8L472.8 205.7L474.0 205.7L475.2 205.7L476.3 205.7L477.5 205.8L478.7 205.9L479.8 206.0L481.0 206.2L482.1 206.5L483.3 206.8L484.4 207.1L485.6 207.4L486.7 207.8L487.8 208.2L489.0 208.7L490.1 209.2L491.2 209.7L492.3 210.2L493.3 210.8L494.4 211.4L495.5 212.0L496.5 212.6L497.6 213.3L498.6 214.0L499.6 214.7L500.7 215.4L501.7 216.1L502.7 216.9L503.7 217.6L504.7 218.2L505.7 218.9L506.7 219.5L507.8 220.0L508.8 220.5L509.9 220.9L511.0 221.2L512.1 221.5L513.2 221.6L514.4 221.7L515.6 221.7L516.8 221.6L518.0 221.5L519.2 221.4L520.4 221.2L521.6 220.9L522.8 220.7L524.0 220.4L525.2 220.3L526.4 220.2L527.4 220.4L528.4 220.8L529.3 221.5L530.1 222.3L530.8 223.3L531.3 224.4L531.8 225.5L532.1 226.7L532.3 227.9L532.6 229.2L532.8 230.4L533.0 231.6L533.2 232.8L533.5 234.0L533.7 235.2L534.0 236.4L534.2 237.5L534.5 238.7L534.7 239.9L535.0 241.1L535.2 242.3L535.5 243.4L535.7 244.6L536.0 245.8L536.2 247.0L536.4 248.1L536.7 249.3L536.9 250.5L537.1 251.6L537.3 252.8L537.5 254.0L537.7 255.2L537.9 256.3L538.1 257.5L538.2 258.7L538.4 259.9L538.6 261.1L538.7 262.3L538.9 263.4L539.0 264.6L539.2 265.8L539.3 267.0L539.4 268.2L539.5 269.4L539.7 270.6L539.8 271.8L539.9 273.0L540.0 274.2L540.1 275.3L540.2 276.5L540.3 277.7L540.4 278.9L540.5 280.1L540.6 281.3L540.6 282.5L540.7 283.7L540.8 284.9L540.9 286.1L541.0 287.3L541.0 288.5L541.1 289.7L541.2 290.9L541.3 292.1L541.3 293.3L541.4 294.5L541.5 295.7L541.5 296.9L541.6 298.1L541.7 299.3L541.8 300.5L541.8 301.7L541.9 302.9L542.0 304.1L542.0 305.3L542.1 306.5L542.2 307.7L542.3 308.9L542.3 310.1L542.4 311.3L542.5 312.5L542.5 313.7L542.6 314.9L542.7 316.1L542.7 317.3L542.8 318.5L542.9 319.7L542.9 320.9L543.0 322.1L543.1 323.3L543.1 324.5L543.2 325.7L543.3 326.8L543.3 328.0L543.4 329.2L543.5 330.4L543.5 331.6L543.6 332.8L543.7 334.0L543.7 335.2L543.8 336.4L543.9 337.6L543.9 338.8L544.0 340.0L544.1 341.2L544.1 342.4L544.2 343.6L544.3 344.8L544.3 346.0L544.4 347.2L544.5 348.4L544.5 349.6L544.6 350.8L544.7 352.0L544.7 353.2L544.8 354.4L544.8 355.6L544.9 356.8L545.0 358.0L545.0 359.2L545.1 360.4L545.2 361.6L545.2 362.8L545.3 364.0L545.3 365.2L545.4 366.4L545.5 367.6L545.5 368.8L545.6 370.0L545.7 371.2L545.7 372.4L545.8 373.6L545.8 374.8L545.9 376.0L546.0 377.2L546.0 378.4L546.1 379.6L546.1 380.8L546.2 382.0L546.3 383.2L546.3 384.4L546.4 385.5L546.4 386.7L546.5 387.9L546.6 389.1L546.6 390.3L546.7 391.5L546.7 392.7L546.8 393.9L546.9 395.1L546.9 396.3L547.0 397.5L547.0 398.7L547.1 399.9L547.2 401.1L547.2 402.3L547.3 403.5L547.3 404.7L547.4 405.9L547.4 407.1L547.5 408.3L547.6 409.5L547.6 410.7L547.7 411.9L547.7 413.1L547.8 414.3L547.8 415.5L547.9 416.7L548.0 417.9L548.0 419.1L548.1 420.3L548.1 421.5L548.2 422.7L548.2 423.9L548.3 425.1L548.4 426.3L548.4 427.5L548.5 428.7L548.5 429.9L548.6 431.1L548.6 432.3L548.7 433.5L548.8 434.7L548.8 435.9L548.9 437.1L548.9 438.3L549.0 439.5L549.0 440.7L549.1 441.9L549.1 443.0L549.2 444.2L549.3 445.4L549.3 446.6L549.4 447.8L549.4 449.0L549.5 450.2L549.5 451.4L549.6 452.6L549.6 453.8L549.7 455.0L549.7 456.2L549.8 457.4L549.9 458.6L549.9 459.8L550.0 461.0L550.0 462.2L550.1 463.4L550.1 464.6L550.2 465.8L550.2 467.0L550.3 468.2L550.3 469.4L550.4 470.6L550.4 471.8L550.5 473.0L550.6 474.2L550.6 475.4L550.7 476.6L550.7 477.8L550.8 479.0L550.8 480.2L550.9 481.4L550.9 482.6L551.0 483.8L551.0 485.0L551.1 486.2L551.1 487.4L551.2 488.6L551.2 489.8L551.3 491.0L551.4 492.2L551.4 493.4L551.5 494.6L551.5 495.8L551.6 497.0L551.6 498.2L551.7 499.4L551.7 500.6L551.8 501.8L551.8 502.9L551.9 504.1L551.9 505.3L552.0 506.5L552.0 507.7L552.1 508.9L552.1 510.1L552.2 511.3L552.2 512.5L552.3 513.7L552.3 514.9L552.4 516.1L552.5 517.3L552.5 518.5L552.6 519.7L552.6 520.9L552.7 522.1L552.7 523.3L552.8 524.5L552.8 525.7L552.9 526.9L552.9 528.1L553.0 529.3L553.0 530.5L553.1 531.7L553.1 532.9L553.2 534.1L553.2 535.3L553.3 536.5L553.3 537.7L553.4 538.9L553.4 540.1L553.5 541.3L553.5 542.5L553.6 543.7L553.6 544.9L553.7 546.1L553.7 547.3L553.8 548.5L553.8 549.7L553.9 550.9L554.0 552.1L554.0 553.3L554.1 554.5L554.1 555.7L554.2 556.9L554.2 558.1L554.3 559.3L554.3 560.5L554.4 561.7L554.4 562.9L554.5 564.1L554.5 565.3L554.6 566.5L554.6 567.7L554.7 568.9L554.7 570.1L554.8 571.3L554.8 572.5L554.9 573.6L554.9 574.8L555.0 576.0L555.0 577.2L555.1 578.4L555.1 579.6L555.2 580.8L555.2 582.0L555.3 583.2L555.3 584.4L555.4 585.6L555.5 586.8L555.5 588.0L555.6 589.2L555.6 590.4L555.7 591.6L555.7 592.8L555.8 594.0L555.8 595.2L555.9 596.4L555.9 597.6L556.0 598.8L556.0 600.0L556.1 601.2L556.1 602.4L556.2 603.6L556.2 604.8L556.3 606.0L556.3 607.2L556.4 608.4L556.4 609.6L556.5 610.8L556.6 612.0"/>
<path stroke="#0a7f24" d="M67.5 218.3L68.7 218.2L69.9 218.2L71.1 218.2L72.3 218.2L73.5 218.2L74.7 218.2L75.9 218.2L77.1 218.2L78.3 218.2L79.5 218.1L80.7 218.1L81.9 218.1L83.1 218.1L84.3 218.1L85.5 218.1L86.7 218.1L87.9 218.1L89.1 218.1L90.3 218.1L91.5 218.1L92.7 218.1L93.9 218.1L95.1 218.0L96.3 218.0L97.5 218.0L98.7 218.0L99.9 218.0L101.1 218.0L102.3 218.0L103.5 218.0L104.7 218.0L105.9 218.0L107.1 218.0L108.3 218.0L109.5 218.0L110.7 218.0L111.9 218.0L113.1 218.0L114.3 218.0L115.5 218.0L116.7 218.0L117.9 218.0L119.1 218.0L120.3 218.0L121.5 218.0L122.7 218.0L123.9 218.0L125.1 218.0L126.3 218.0L127.5 218.0L128.7 218.0L129.9 218.0L131.1 218.0L132.3 218.0L133.5 218.0L134.7 218.0L135.9 218.0L137.1 218.0L138.3 218.0L139.5 218.0L140.7 218.0L141.9 218.0L143.1 218.0L144.3 218.0L145.5 218.0L146.7 218.1L147.9 218.1L149.1 218.1L150.3 218.1L151.5 218.1L152.6 218.1L153.8 218.1L155.0 218.1L156.2 218.1L157.4 218.1L158.6 218.1L159.8 218.1L161.0 218.2L162.2 218.2L163.4 218.2L164.6 218.2L165.8 218.2L167.0 218.2L168.2 218.2L169.4 218.2L170.6 218.3L171.8 218.3L173.0 218.3L174.2 218.3L175.4 218.3L176.6 218.3L177.8 218.3L179.0 218.4L180.2 218.4L181.4 218.4L182.6 218.4L183.8 218.4L185.0 218.4L186.2 218.4L187.4 218.5L188.6 218.5L189.8 218.5L191.0 218.5L192.2 218.5L193.4 218.6L194.6 218.6L195.8 218.6L197.0 218.6L198.2 218.6L199.4 218.7L200.6 218.7L201.8 218.7L203.0 218.7L204.2 218.7L205.4 218.8L206.6 218.8L207.8 218.8L209.0 218.8L210.2 218.9L211.4 218.9L212.6 218.9L213.8 218.9L215.0 219.0L216.2 219.0L217.4 219.0L218.6 219.0L219.8 219.1L221.0 219.1L222.2 219.1L223.4 219.2L224.6 219.2L225.8 219.2L227.0 219.2L228.2 219.3L229.4 219.3L230.6 219.3L231.8 219.4L233.0 219.4L234.2 219.4L235.4 219.5L236.6 219.5L237.8 219.5L239.0 219.5L240.2 219.6L241.4 219.6L242.6 219.7L243.8 219.7L245.0 219.7L246.2 219.8L247.4 219.8L248.6 219.8L249.8 219.9L251.0 219.9L252.2 219.9L253.4 220.0L254.6 220.0L255.8 220.0L257.0 220.1L258.2 220.1L259.4 220.2L260.6 220.2L261.8 220.2L263.0 220.3L264.1 220.3L265.3 220.4L266.5 220.4L267.7 220.4L268.9 220.5L270.1 220.5L271.3 220.6L272.5 220.6L273.7 220.7L274.9 220.7L276.1 220.7L277.3 220.8L278.5 220.8L279.7 220.9L280.9 220.9L282.1 221.0L283.3 221.0L284.5 221.1L285.7 221.1L286.9 221.2L288.1 221.2L289.3 221.3L290.5 221.3L291.7 221.4L292.9 221.4L294.1 221.5L295.3 221.5L296.5 221.6L297.7 221.6L298.9 221.7L300.1 221.7L301.3 221.8L302.5 221.8L303.7 221.9L304.9 221.9L306.1 222.0L307.3 222.0L308.5 222.1L309.7 222.2L310.9 222.2L312.1 222.3L313.3 222.3L314.5 222.4L315.7 222.4L316.9 222.5L318.1 222.6L319.3 222.6L320.5 222.7L321.7 222.7L322.9 222.8L324.0 222.9L325.2 222.9L326.4 223.0L327.6 223.0L328.8 223.1L330.0 223.2L331.2 223.2L332.4 223.3L333.6 223.4L334.8 223.4L336.0 223.5L337.2 223.5L338.4 223.6L339.6 223.7L340.8 223.7L342.0 223.8L343.2 223.9L344.4 223.9L345.6 224.0L346.8 224.1L348.0 224.2L349.2 224.2L350.4 224.3L351.6 224.4L352.8 224.4L354.0 224.5L355.2 224.6L356.4 224.6L357.6 224.7L358.8 224.8L360.0 224.9L361.2 224.9L362.4 225.0L363.6 225.1L364.8 225.2L365.9 225.2L367.1 225.3L368.3 225.4L369.5 225.5L370.7 225.5L371.9 225.6L373.1 225.7L374.3 225.7L375.5 225.8L376.7 225.9L377.9 226.0L379.1 226.0L380.3 226.1L381.5 226.1L382.7 226.2L383.9 226.3L385.1 226.3L386.3 226.4L387.5 226.4L388.7 226.5L389.9 226.5L391.1 226.6L392.3 226.6L393.5 226.6L394.7 226.7L395.9 226.7L397.1 226.7L398.3 226.7L399.5 226.8L400.7 226.8L401.9 226.8L403.1 226.8L404.3 226.8L405.5 226.8L406.7 226.8L407.9 226.8L409.1 226.8L410.3 226.8L411.5 226.7L412.7 226.7L413.9 226.7L415.1 226.6L416.3 226.6L417.5 226.5L418.7 226.5L419.9 226.4L421.1 226.3L422.3 226.3L423.5 226.2L424.7 226.1L425.9 226.0L427.1 225.9L428.3 225.8L429.5 225.7L430.7 225.5L431.9 225.4L433.1 225.3L434.3 225.1L435.5 224.9L436.6 224.8L437.8 224.6L439.0 224.4L440.2 224.2L441.4 224.0L442.6 223.8L443.7 223.6L444.9 223.3L446.1 223.1L447.3 222.8L448.4 222.5L449.6 222.3L450.7 222.0L451.9 221.7L453.0 221.3L454.2 221.0L455.3 220.7L456.5 220.3L457.6 220.0L458.8 219.6L459.9 219.3L461.0 218.9L462.2 218.6L463.3 218.2L464.5 217.9L465.6 217.5L466.7 217.2L467.9 216.8L469.0 216.5L470.2 216.1L471.3 215.8L472.5 215.5L473.6 215.2L474.8 214.9L475.9 214.6L477.1 214.4L478.3 214.1L479.4 213.9L480.6 213.6L481.8 213.4L483.0 213.2L484.2 213.1L485.4 212.9L486.6 212.8L487.8 212.7L489.0 212.6L490.2 212.6L491.5 212.6L492.7 212.6L493.9 212.5L495.2 212.5L496.4 212.5L497.6 212.5L498.9 212.5L500.1 212.5L501.3 212.4L502.5 212.3L503.7 212.2L504.8 212.0L506.0 211.8L507.1 211.5L508.2 211.2L509.3 210.8L510.3 210.3L511.4 209.8L512.4 209.2L513.4 208.6L514.4 207.9L515.3 207.2L516.3 206.4L517.2 205.7L518.2 204.9L519.1 204.1L520.1 203.3L521.0 202.5L522.0 201.8L523.0 201.0L524.0 200.3L525.0 199.6L526.0 199.1L527.1 198.7L528.1 198.7L529.0 199.1L529.9 199.8L530.6 200.8L531.1 201.9L531.4 203.1L531.8 204.3L532.2 205.5L532.5 206.7L532.9 207.9L533.3 209.0L533.6 210.2L534.0 211.3L534.3 212.5L534.6 213.6L535.0 214.8L535.3 215.9L535.5 217.0L535.8 218.2L536.0 219.3L536.2 220.5L536.4 221.7L536.6 222.9L536.8 224.0L536.9 225.2L537.1 226.4L537.2 227.6L537.3 228.8L537.4 230.0L537.5 231.2L537.6 232.4L537.7 233.6L537.8 234.8L537.9 236.0L538.0 237.2L538.1 238.4L538.3 239.6L538.4 240.8L538.5 242.0L538.6 243.2L538.8 244.4L538.9 245.6L539.0 246.8L539.2 248.0L539.3 249.2L539.5 250.4L539.6 251.6L539.7 252.8L539.9 253.9L540.0 255.1L540.1 256.3L540.2 257.5L540.4 258.7L540.5 259.9L540.6 261.1L540.7 262.3L540.8 263.5L540.9 264.7L541.0 265.9L541.1 267.1L541.2 268.2L541.3 269.4L541.4 270.6L541.5 271.8L541.6 273.0L541.7 274.2L541.7 275.4L541.8 276.6L541.9 277.8L542.0 279.0L542.1 280.2L542.1 281.4L542.2 282.6L542.3 283.8L542.4 285.0L542.4 286.2L542.5 287.4L542.6 288.6L542.6 289.8L542.7 291.0L542.8 292.2L542.9 293.4L542.9 294.6L543.0 295.8L543.1 297.0L543.1 298.2L543.2 299.4L543.3 300.6L543.3 301.8L543.4 302.9L543.5 304.1L543.5 305.3L543.6 306.5L543.7 307.7L543.7 308.9L543.8 310.1L543.9 311.3L543.9 312.5L544.0 313.7L544.1 314.9L544.1 316.1L544.2 317.3L544.3 318.5L544.3 319.7L544.4 320.9L544.5 322.1L544.5 323.3L544.6 324.5L544.7 325.7L544.7 326.9L544.8 328.1L544.9 329.3L544.9 330.5L545.0 331.7L545.0 332.9L545.1 334.1L545.2 335.3L545.2 336.5L545.3 337.7L545.4 338.9L545.4 340.1L545.5 341.3L545.6 342.5L545.6 343.7L545.7 344.9L545.8 346.1L545.8 347.3L545.9 348.5L545.9 349.7L546.0 350.9L546.1 352.0L546.1 353.2L546.2 354.4L546.3 355.6L546.3 356.8L546.4 358.0L546.4 359.2L546.5 360.4L546.6 361.6L546.6 362.8L546.7 364.0L546.8 365.2L546.8 366.4L546.9 367.6L546.9 368.8L547.0 370.0L547.1 371.2L547.1 372.4L547.2 373.6L547.3 374.8L547.3 376.0L547.4 377.2L547.4 378.4L547.5 379.6L547.6 380.8L547.6 382.0L547.7 383.2L547.7 384.4L547.8 385.6L547.9 386.8L547.9 388.0L548.0 389.2L548.0 390.4L548.1 391.6L548.2 392.8L548.2 394.0L548.3 395.2L548.3 396.4L548.4 397.6L548.5 398.8L548.5 400.0L548.6 401.2L548.6 402.4L548.7 403.5L548.8 404.7L548.8 405.9L548.9 407.1L548.9 408.3L549.0 409.5L549.1 410.7L549.1 411.9L549.2 413.1L549.2 414.3L549.3 415.5L549.4 416.7L549.4 417.9L549.5 419.1L549.5 420.3L549.6 421.5L549.6 422.7L549.7 423.9L549.8 425.1L549.8 426.3L549.9 427.5L549.9 428.7L550.0 429.9L550.1 431.1L550.1 432.3L550.2 433.5L550.2 434.7L550.3 435.9L550.3 437.1L550.4 438.3L550.5 439.5L550.5 440.7L550.6 441.9L550.6 443.1L550.7 444.3L550.7 445.5L550.8 446.7L550.9 447.9L550.9 449.1L551.0 450.3L551.0 451.5L551.1 452.7L551.1 453.9L551.2 455.1L551.2 456.3L551.3 457.5L551.4 458.6L551.4 459.8L551.5 461.0L551.5 462.2L551.6 463.4L551.6 464.6L551.7 465.8L551.8 467.0L551.8 468.2L551.9 469.4L551.9 470.6L552.0 471.8L552.0 473.0L552.1 474.2L552.1 475.4L552.2 476.6L552.3 477.8L552.3 479.0L552.4 480.2L552.4 481.4L552.5 482.6L552.5 483.8L552.6 485.0L552.6 486.2L552.7 487.4L552.7 488.6L552.8 489.8L552.9 491.0L552.9 492.2L553.0 493.4L553.0 494.6L553.1 495.8L553.1 497.0L553.2 498.2L553.2 499.4L553.3 500.6L553.3 501.8L553.4 503.0L553.4 504.2L553.5 505.4L553.6 506.6L553.6 507.8L553.7 509.0L553.7 510.2L553.8 511.4L553.8 512.6L553.9 513.8L553.9 515.0L554.0 516.1L554.0 517.3L554.1 518.5L554.1 519.7L554.2 520.9L554.3 522.1L554.3 523.3L554.4 524.5L554.4 525.7L554.5 526.9L554.5 528.1L554.6 529.3L554.6 530.5L554.7 531.7L554.7 532.9L554.8 534.1L554.8 535.3L554.9 536.5L554.9 537.7L555.0 538.9L555.0 540.1L555.1 541.3L555.1 542.5L555.2 543.7L555.3 544.9L555.3 546.1L555.4 547.3L555.4 548.5L555.5 549.7L555.5 550.9L555.6 552.1L555.6 553.3L555.7 554.5L555.7 555.7L555.8 556.9L555.8 558.1L555.9 559.3L555.9 560.5L556.0 561.7L556.0 562.9L556.1 564.1L556.1 565.3L556.2 566.5L556.2 567.7L556.3 568.9L556.3 570.1L556.4 571.3L556.4 572.5L556.5 573.7L556.5 574.9L556.6 576.1L556.7 577.3L556.7 578.5L556.8 579.6L556.8 580.8L556.9 582.0L556.9 583.2L557.0 584.4L557.0 585.6L557.1 586.8L557.1 588.0L557.2 589.2L557.2 590.4L557.3 591.6L557.3 592.8L557.4 594.0L557.4 595.2L557.5 596.4L557.5 597.6L557.6 598.8L557.6 600.0L557.7 601.2L557.7 602.4L557.8 603.6L557.8 604.8L557.9 606.0L557.9 607.2L558.0 608.4L558.0 609.6L558.1 610.8L558.1 612.0"/>
<path stroke="#3030ff" d="M67.5 218.2L68.7 218.2L69.9 218.2L71.1 218.2L72.3 218.2L73.5 218.2L74.7 218.2L75.9 218.2L77.1 218.2L78.3 218.2L79.5 218.1L80.7 218.1L81.9 218.1L83.1 218.1L84.3 218.1L85.5 218.1L86.7 218.1L87.9 218.1L89.1 218.1L90.3 218.1L91.5 218.1L92.7 218.1L93.9 218.1L95.1 218.1L96.3 218.1L97.5 218.0L98.7 218.0L99.9 218.0L101.1 218.0L102.3 218.0L103.5 218.0L104.7 218.0L105.8 218.0L107.0 218.0L108.2 218.0L109.4 218.0L110.6 218.0L111.8 218.0L113.0 218.0L114.2 218.0L115.4 218.0L116.6 218.0L117.8 218.0L119.0 218.0L120.2 218.0L121.4 218.0L122.6 218.0L123.8 218.0L125.0 218.0L126.2 218.0L127.4 218.0L128.6 218.0L129.8 218.0L131.0 218.0L132.2 218.0L133.4 218.0L134.6 218.0L135.8 218.0L137.0 218.1L138.2 218.1L139.4 218.1L140.6 218.1L141.8 218.1L143.0 218.1L144.2 218.1L145.4 218.1L146.6 218.1L147.8 218.1L149.0 218.1L150.2 218.1L151.4 218.1L152.6 218.1L153.8 218.1L155.0 218.2L156.2 218.2L157.4 218.2L158.6 218.2L159.8 218.2L161.0 218.2L162.2 218.2L163.4 218.2L164.6 218.2L165.8 218.3L167.0 218.3L168.2 218.3L169.4 218.3L170.6 218.3L171.8 218.3L173.0 218.3L174.2 218.3L175.4 218.4L176.6 218.4L177.8 218.4L179.0 218.4L180.2 218.4L181.4 218.4L182.6 218.4L183.8 218.5L185.0 218.5L186.1 218.5L187.3 218.5L188.5 218.5L189.7 218.5L190.9 218.6L192.1 218.6L193.3 218.6L194.5 218.6L195.7 218.6L196.9 218.7L198.1 218.7L199.3 218.7L200.5 218.7L201.7 218.7L202.9 218.8L204.1 218.8L205.3 218.8L206.5 218.8L207.7 218.8L208.9 218.9L210.1 218.9L211.3 218.9L212.5 218.9L213.7 219.0L214.9 219.0L216.1 219.0L217.3 219.0L218.5 219.1L219.7 219.1L220.9 219.1L222.1 219.1L223.3 219.2L224.5 219.2L225.7 219.2L226.9 219.2L228.1 219.3L229.3 219.3L230.5 219.3L231.7 219.4L232.9 219.4L234.1 219.4L235.3 219.4L236.5 219.5L237.7 219.5L238.9 219.5L240.1 219.6L241.3 219.6L242.5 219.6L243.7 219.7L244.9 219.7L246.1 219.7L247.3 219.7L248.5 219.8L249.7 219.8L250.9 219.8L252.1 219.9L253.3 219.9L254.4 219.9L255.6 220.0L256.8 220.0L258.0 220.1L259.2 220.1L260.4 220.1L261.6 220.2L262.8 220.2L264.0 220.2L265.2 220.3L266.4 220.3L267.6 220.3L268.8 220.4L270.0 220.4L271.2 220.5L272.4 220.5L273.6 220.5L274.8 220.6L276.0 220.6L277.2 220.7L278.4 220.7L279.6 220.7L280.8 220.8L282.0 220.8L283.2 220.9L284.4 220.9L285.6 221.0L286.8 221.0L288.0 221.0L289.2 221.1L290.4 221.1L291.6 221.2L292.8 221.2L294.0 221.3L295.2 221.3L296.4 221.4L297.6 221.4L298.8 221.4L300.0 221.5L301.2 221.5L302.4 221.6L303.6 221.6L304.8 221.7L305.9 221.7L307.1 221.8L308.3 221.8L309.5 221.9L310.7 221.9L311.9 222.0L313.1 222.0L314.3 222.1L315.5 222.1L316.7 222.2L317.9 222.2L319.1 222.3L320.3 222.3L321.5 222.4L322.7 222.4L323.9 222.5L325.1 222.5L326.3 222.6L327.5 222.7L328.7 222.7L329.9 222.8L331.1 222.8L332.3 222.9L333.5 222.9L334.7 223.0L335.9 223.0L337.1 223.1L338.3 223.2L339.5 223.2L340.7 223.3L341.9 223.3L343.1 223.4L344.3 223.4L345.5 223.5L346.6 223.6L347.8 223.6L349.0 223.7L350.2 223.8L351.4 223.8L352.6 223.9L353.8 223.9L355.0 224.0L356.2 224.1L357.4 224.1L358.6 224.2L359.8 224.2L361.0 224.3L362.2 224.4L363.4 224.4L364.6 224.5L365.8 224.6L367.0 224.6L368.2 224.7L369.4 224.8L370.6 224.8L371.8 224.9L373.0 224.9L374.2 225.0L375.4 225.0L376.6 225.1L377.8 225.2L379.0 225.2L380.2 225.2L381.4 225.3L382.6 225.3L383.8 225.4L385.0 225.4L386.2 225.4L387.3 225.5L388.5 225.5L389.7 225.5L390.9 225.5L392.1 225.6L393.4 225.6L394.6 225.6L395.8 225.6L397.0 225.6L398.2 225.6L399.4 225.5L400.6 225.5L401.8 225.5L403.0 225.5L404.2 225.4L405.4 225.4L406.6 225.3L407.8 225.3L409.0 225.2L410.2 225.1L411.4 225.0L412.6 224.9L413.8 224.8L414.9 224.7L416.1 224.5L417.3 224.4L418.5 224.2L419.7 224.0L420.9 223.8L422.0 223.5L423.2 223.3L424.4 223.0L425.5 222.7L426.7 222.5L427.8 222.2L429.0 221.8L430.1 221.5L431.3 221.2L432.4 220.8L433.6 220.4L434.7 220.1L435.8 219.7L437.0 219.3L438.1 218.9L439.2 218.5L440.4 218.1L441.5 217.7L442.6 217.3L443.8 216.8L444.9 216.4L446.0 216.0L447.1 215.6L448.3 215.1L449.4 214.7L450.5 214.3L451.6 213.8L452.8 213.4L453.9 213.0L455.0 212.6L456.1 212.1L457.2 211.7L458.4 211.3L459.5 210.8L460.6 210.4L461.7 209.9L462.8 209.5L463.9 209.0L465.0 208.6L466.1 208.1L467.2 207.7L468.3 207.2L469.4 206.7L470.5 206.2L471.6 205.8L472.7 205.3L473.8 204.8L474.9 204.3L475.9 203.7L477.0 203.2L478.1 202.7L479.2 202.1L480.2 201.6L481.3 201.1L482.4 200.5L483.4 200.0L484.5 199.4L485.6 198.9L486.6 198.3L487.7 197.8L488.8 197.2L489.9 196.7L490.9 196.2L492.0 195.6L493.1 195.1L494.2 194.6L495.3 194.0L496.3 193.5L497.4 192.9L498.4 192.3L499.5 191.7L500.5 191.1L501.5 190.5L502.5 189.9L503.5 189.2L504.5 188.5L505.4 187.7L506.3 187.0L507.2 186.2L508.1 185.4L509.0 184.5L509.9 183.7L510.7 182.9L511.6 182.0L512.4 181.2L513.3 180.3L514.2 179.5L515.1 178.7L516.0 177.9L516.9 177.1L517.9 176.4L518.9 175.6L519.9 175.0L520.9 174.4L522.0 174.0L523.0 174.0L523.9 174.5L524.8 175.3L525.5 176.1L526.1 177.1L526.7 178.1L527.2 179.2L527.6 180.3L527.9 181.4L528.2 182.6L528.5 183.9L528.7 185.1L529.0 186.3L529.2 187.6L529.4 188.8L529.6 190.1L529.8 191.3L530.0 192.5L530.3 193.6L530.5 194.8L530.8 196.0L531.0 197.1L531.3 198.3L531.5 199.4L531.7 200.6L531.9 201.7L532.0 202.9L532.2 204.1L532.3 205.3L532.5 206.4L532.6 207.6L532.7 208.8L532.8 210.0L532.9 211.2L533.0 212.4L533.1 213.6L533.2 214.8L533.2 216.0L533.3 217.2L533.4 218.4L533.4 219.6L533.5 220.8L533.5 222.0L533.6 223.2L533.6 224.4L533.7 225.6L533.7 226.8L533.8 228.0L533.8 229.2L533.9 230.4L533.9 231.6L534.0 232.8L534.0 234.0L534.1 235.3L534.2 236.5L534.2 237.7L534.3 238.8L534.4 240.0L534.5 241.2L534.6 242.4L534.7 243.6L534.8 244.8L534.9 246.0L535.0 247.2L535.1 248.4L535.3 249.6L535.4 250.8L535.5 251.9L535.6 253.1L535.8 254.3L535.9 255.5L536.1 256.7L536.2 257.9L536.3 259.1L536.5 260.2L536.6 261.4L536.8 262.6L536.9 263.8L537.1 265.0L537.2 266.2L537.4 267.3L537.6 268.5L537.7 269.7L537.9 270.9L538.0 272.1L538.2 273.3L538.3 274.5L538.5 275.7L538.6 276.9L538.8 278.0L538.9 279.2L539.0 280.4L539.2 281.6L539.3 282.8L539.4 284.0L539.5 285.2L539.6 286.4L539.7 287.6L539.8 288.8L539.9 290.0L540.0 291.2L540.1 292.3L540.2 293.5L540.3 294.7L540.4 295.9L540.5 297.1L540.5 298.3L540.6 299.5L540.7 300.7L540.8 301.9L540.8 303.1L540.9 304.3L541.0 305.5L541.0 306.7L541.1 307.9L541.2 309.1L541.2 310.3L541.3 311.5L541.3 312.7L541.4 313.9L541.4 315.1L541.5 316.3L541.6 317.5L541.6 318.7L541.7 319.9L541.7 321.1L541.8 322.3L541.8 323.5L541.9 324.7L541.9 325.9L542.0 327.1L542.1 328.2L542.1 329.4L542.2 330.6L542.2 331.8L542.3 333.0L542.3 334.2L542.4 335.4L542.5 336.6L542.5 337.8L542.6 339.0L542.6 340.2L542.7 341.4L542.7 342.6L542.8 343.8L542.8 345.0L542.9 346.2L543.0 347.4L543.0 348.6L543.1 349.8L543.1 351.0L543.2 352.2L543.2 353.4L543.3 354.6L543.4 355.8L543.4 357.0L543.5 358.2L543.5 359.4L543.6 360.6L543.6 361.8L543.7 363.0L543.8 364.2L543.8 365.4L543.9 366.6L543.9 367.8L544.0 369.0L544.0 370.2L544.1 371.4L544.2 372.5L544.2 373.7L544.3 374.9L544.3 376.1L544.4 377.3L544.4 378.5L544.5 379.7L544.6 380.9L544.6 382.1L544.7 383.3L544.7 384.5L544.8 385.7L544.8 386.9L544.9 388.1L545.0 389.3L545.0 390.5L545.1 391.7L545.1 392.9L545.2 394.1L545.2 395.3L545.3 396.5L545.4 397.7L545.4 398.9L545.5 400.1L545.5 401.3L545.6 402.5L545.7 403.7L545.7 404.9L545.8 406.1L545.8 407.3L545.9 408.5L545.9 409.7L546.0 410.9L546.1 412.1L546.1 413.3L546.2 414.4L546.2 415.6L546.3 416.8L546.3 418.0L546.4 419.2L546.5 420.4L546.5 421.6L546.6 422.8L546.6 424.0L546.7 425.2L546.7 426.4L546.8 427.6L546.9 428.8L546.9 430.0L547.0 431.2L547.0 432.4L547.1 433.6L547.1 434.8L547.2 436.0L547.3 437.2L547.3 438.4L547.4 439.6L547.4 440.8L547.5 442.0L547.5 443.2L547.6 444.4L547.7 445.6L547.7 446.8L547.8 448.0L547.8 449.2L547.9 450.4L547.9 451.6L548.0 452.8L548.1 454.0L548.1 455.1L548.2 456.3L548.2 457.5L548.3 458.7L548.3 459.9L548.4 461.1L548.5 462.3L548.5 463.5L548.6 464.7L548.6 465.9L548.7 467.1L548.7 468.3L548.8 469.5L548.9 470.7L548.9 471.9L549.0 473.1L549.0 474.3L549.1 475.5L549.1 476.7L549.2 477.9L549.2 479.1L549.3 480.3L549.4 481.5L549.4 482.7L549.5 483.9L549.5 485.1L549.6 486.3L549.6 487.5L549.7 488.7L549.7 489.9L549.8 491.1L549.9 492.3L549.9 493.5L550.0 494.7L550.0 495.8L550.1 497.0L550.1 498.2L550.2 499.4L550.2 500.6L550.3 501.8L550.3 503.0L550.4 504.2L550.5 505.4L550.5 506.6L550.6 507.8L550.6 509.0L550.7 510.2L550.7 511.4L550.8 512.6L550.8 513.8L550.9 515.0L550.9 516.2L551.0 517.4L551.0 518.6L551.1 519.8L551.2 521.0L551.2 522.2L551.3 523.4L551.3 524.6L551.4 525.8L551.4 527.0L551.5 528.2L551.5 529.4L551.6 530.6L551.6 531.8L551.7 533.0L551.7 534.2L551.8 535.4L551.8 536.6L551.9 537.8L551.9 539.0L552.0 540.1L552.0 541.3L552.1 542.5L552.1 543.7L552.2 544.9L552.2 546.1L552.3 547.3L552.3 548.5L552.4 549.7L552.4 550.9L552.5 552.1L552.5 553.3L552.6 554.5L552.6 555.7L552.7 556.9L552.7 558.1L552.8 559.3L552.8 560.5L552.9 561.7L552.9 562.9L553.0 564.1L553.0 565.3L553.1 566.5L553.1 567.7L553.2 568.9L553.2 570.1L553.3 571.3L553.3 572.5L553.4 573.7L553.4 574.9L553.5 576.1L553.5 577.3L553.6 578.5L553.6 579.7L553.7 580.9L553.7 582.1L553.8 583.3L553.8 584.5L553.9 585.7L553.9 586.9L553.9 588.0L554.0 589.2L554.0 590.4L554.1 591.6L554.1 592.8L554.2 594.0L554.2 595.2L554.3 596.4L554.3 597.6L554.4 598.8L554.4 600.0L554.4 601.2L554.5 602.4L554.5 603.6L554.6 604.8L554.6 606.0L554.7 607.2L554.7 608.4L554.8 609.6L554.8 610.8L554.8 612.0"/>
<path stroke="#ff3030" d="M67.5 218.2L68.7 218.2L69.9 218.2L71.1 218.2L72.3 218.2L73.5 218.2L74.7 218.1L75.9 218.1L77.1 218.1L78.3 218.1L79.5 218.1L80.7 218.1L81.9 218.1L83.1 218.1L84.2 218.0L85.4 218.0L86.6 218.0L87.8 218.0L89.0 218.0L90.2 218.0L91.4 218.0L92.6 218.0L93.8 218.0L95.0 218.0L96.2 218.0L97.4 218.0L98.6 217.9L99.8 217.9L101.0 217.9L102.2 217.9L103.4 217.9L104.6 217.9L105.8 217.9L107.0 217.9L108.2 217.9L109.4 217.9L110.6 217.9L111.8 217.9L113.0 217.9L114.2 217.9L115.4 217.9L116.6 217.9L117.8 217.9L119.0 217.9L120.2 217.9L121.4 217.9L122.6 217.9L123.8 217.9L125.0 217.9L126.2 217.9L127.4 217.9L128.6 217.9L129.8 217.9L131.0 217.9L132.2 217.9L133.4 217.9L134.6 217.9L135.8 217.9L137.0 217.9L138.2 217.9L139.4 217.9L140.6 217.9L141.8 217.9L143.0 217.9L144.2 217.9L145.4 217.9L146.6 217.9L147.8 217.9L149.0 217.9L150.2 217.9L151.4 217.9L152.6 218.0L153.8 218.0L155.0 218.0L156.2 218.0L157.4 218.0L158.6 218.0L159.8 218.0L161.0 218.0L162.2 218.0L163.4 218.0L164.6 218.0L165.8 218.0L167.0 218.0L168.2 218.0L169.4 218.0L170.6 218.0L171.8 218.0L173.0 218.0L174.2 218.0L175.4 218.0L176.6 218.0L177.8 218.0L179.0 218.0L180.2 218.0L181.5 218.1L182.7 218.1L183.9 218.1L185.1 218.1L186.3 218.1L187.5 218.1L188.7 218.1L189.9 218.1L191.1 218.1L192.3 218.1L193.5 218.1L194.7 218.1L195.9 218.1L197.1 218.1L198.3 218.1L199.5 218.1L200.7 218.1L201.9 218.1L203.1 218.1L204.3 218.1L205.5 218.1L206.7 218.1L207.9 218.1L209.1 218.1L210.3 218.1L211.5 218.1L212.7 218.1L213.9 218.1L215.1 218.1L216.3 218.1L217.5 218.1L218.7 218.1L219.9 218.1L221.1 218.1L222.3 218.1L223.5 218.1L224.7 218.1L225.9 218.1L227.1 218.1L228.3 218.1L229.5 218.1L230.7 218.1L231.9 218.1L233.1 218.1L234.3 218.1L235.5 218.1L236.7 218.1L237.9 218.1L239.1 218.1L240.3 218.0L241.5 218.0L242.7 218.0L243.9 218.0L245.1 218.0L246.3 218.0L247.5 218.0L248.7 218.0L249.9 218.0L251.1 218.0L252.3 218.0L253.5 218.0L254.7 217.9L255.9 217.9L257.1 217.9L258.3 217.9L259.5 217.9L260.7 217.9L261.9 217.9L263.1 217.9L264.3 217.8L265.5 217.8L266.7 217.8L267.9 217.8L269.1 217.8L270.3 217.8L271.5 217.7L272.7 217.7L273.9 217.7L275.1 217.7L276.3 217.7L277.5 217.6L278.7 217.6L279.9 217.6L281.1 217.6L282.3 217.6L283.5 217.5L284.7 217.5L285.9 217.5L287.1 217.5L288.2 217.4L289.4 217.4L290.6 217.4L291.8 217.4L293.0 217.3L294.2 217.3L295.4 217.3L296.6 217.2L297.8 217.2L299.0 217.2L300.2 217.1L301.4 217.1L302.6 217.1L303.8 217.0L305.0 217.0L306.2 217.0L307.4 216.9L308.6 216.9L309.7 216.8L310.9 216.8L312.1 216.7L313.3 216.7L314.5 216.6L315.7 216.6L316.9 216.5L318.1 216.5L319.3 216.4L320.5 216.4L321.7 216.3L322.9 216.2L324.1 216.2L325.3 216.1L326.5 216.0L327.7 216.0L328.8 215.9L330.0 215.8L331.2 215.7L332.4 215.7L333.6 215.6L334.8 215.5L336.0 215.4L337.2 215.3L338.4 215.2L339.6 215.1L340.8 215.0L342.0 214.9L343.2 214.8L344.4 214.7L345.6 214.6L346.8 214.5L348.0 214.4L349.2 214.2L350.4 214.1L351.6 214.0L352.7 213.9L353.9 213.7L355.1 213.6L356.3 213.4L357.5 213.3L358.7 213.1L359.9 213.0L361.1 212.8L362.3 212.7L363.5 212.5L364.7 212.3L365.9 212.2L367.1 212.0L368.3 211.8L369.5 211.6L370.7 211.4L371.9 211.2L373.1 211.0L374.3 210.8L375.5 210.6L376.7 210.4L377.9 210.2L379.1 209.9L380.3 209.7L381.5 209.5L382.7 209.2L383.8 209.0L385.0 208.7L386.2 208.4L387.4 208.1L388.6 207.9L389.7 207.6L390.9 207.3L392.1 206.9L393.2 206.6L394.4 206.3L395.5 205.9L396.7 205.6L397.8 205.2L398.9 204.9L400.1 204.5L401.2 204.1L402.3 203.7L403.4 203.3L404.6 202.8L405.7 202.4L406.8 201.9L407.9 201.5L408.9 201.0L410.0 200.5L411.1 200.0L412.2 199.5L413.2 199.0L414.3 198.4L415.3 197.9L416.4 197.3L417.4 196.7L418.4 196.1L419.4 195.5L420.4 194.9L421.4 194.2L422.4 193.6L423.4 192.9L424.4 192.2L425.4 191.5L426.3 190.8L427.3 190.1L428.2 189.4L429.1 188.6L430.1 187.9L431.0 187.1L431.9 186.4L432.8 185.6L433.7 184.8L434.6 184.0L435.5 183.2L436.4 182.3L437.3 181.5L438.1 180.7L439.0 179.8L439.8 179.0L440.7 178.1L441.5 177.3L442.4 176.4L443.2 175.5L444.0 174.7L444.9 173.8L445.7 172.9L446.5 172.0L447.3 171.1L448.1 170.2L448.9 169.3L449.7 168.4L450.4 167.5L451.2 166.6L452.0 165.6L452.8 164.7L453.5 163.8L454.3 162.9L455.1 161.9L455.8 161.0L456.5 160.1L457.3 159.1L458.0 158.2L458.8 157.2L459.5 156.3L460.2 155.3L460.9 154.4L461.7 153.4L462.4 152.4L463.1 151.5L463.8 150.5L464.5 149.5L465.2 148.6L465.9 147.6L466.6 146.6L467.3 145.6L468.0 144.6L468.7 143.7L469.3 142.7L470.0 141.7L470.7 140.7L471.4 139.7L472.0 138.7L472.7 137.7L473.4 136.7L474.0 135.7L474.7 134.7L475.4 133.7L476.0 132.7L476.7 131.7L477.3 130.7L478.0 129.7L478.6 128.7L479.2 127.7L479.9 126.6L480.5 125.6L481.1 124.6L481.8 123.6L482.4 122.6L483.0 121.5L483.6 120.5L484.3 119.5L484.9 118.5L485.5 117.4L486.1 116.4L486.7 115.4L487.3 114.3L487.9 113.3L488.5 112.2L489.1 111.2L489.7 110.2L490.3 109.1L490.9 108.1L491.4 107.0L492.0 106.0L492.6 104.9L493.2 103.9L493.7 102.8L494.3 101.7L494.9 100.7L495.4 99.6L496.0 98.6L496.6 97.5L497.1 96.4L497.7 95.4L498.2 94.3L498.8 93.2L499.3 92.2L499.8 91.1L500.4 90.0L500.9 89.0L501.5 87.9L502.0 86.8L502.5 85.7L503.0 84.6L503.6 83.6L504.1 82.5L504.6 81.4L505.1 80.3L505.6 79.2L506.2 78.2L506.7 77.1L507.2 76.0L507.7 74.9L508.2 73.8L508.7 72.7L509.2 71.6L509.7 70.6L510.2 69.5L510.8 68.4L511.3 67.3L511.9 66.3L512.5 65.2L513.1 64.2L513.8 63.2L514.5 62.2L515.3 61.2L516.2 60.3L517.1 59.8L518.2 59.6L519.2 59.9L520.0 60.5L520.6 61.4L521.1 62.5L521.5 63.7L521.9 64.8L522.3 66.0L522.6 67.2L522.9 68.4L523.3 69.6L523.5 70.8L523.8 71.9L524.1 73.1L524.3 74.3L524.6 75.5L524.8 76.7L525.0 77.9L525.2 79.1L525.4 80.3L525.5 81.4L525.7 82.6L525.9 83.8L526.0 85.0L526.2 86.2L526.3 87.4L526.4 88.6L526.6 89.8L526.7 91.0L526.8 92.2L526.9 93.3L527.1 94.5L527.2 95.7L527.3 96.9L527.4 98.1L527.5 99.3L527.7 100.5L527.8 101.7L527.9 102.9L528.0 104.1L528.1 105.3L528.2 106.4L528.3 107.6L528.4 108.8L528.6 110.0L528.7 111.2L528.8 112.4L528.9 113.6L529.0 114.8L529.1 116.0L529.2 117.2L529.3 118.4L529.4 119.6L529.5 120.8L529.6 122.0L529.7 123.2L529.8 124.3L529.8 125.5L529.9 126.7L530.0 127.9L530.1 129.1L530.2 130.3L530.3 131.5L530.4 132.7L530.5 133.9L530.6 135.1L530.6 136.3L530.7 137.5L530.8 138.7L530.9 139.9L531.0 141.1L531.0 142.3L531.1 143.5L531.2 144.7L531.3 145.9L531.4 147.1L531.4 148.3L531.5 149.5L531.6 150.7L531.7 151.9L531.7 153.0L531.8 154.2L531.9 155.4L531.9 156.6L532.0 157.8L532.1 159.0L532.1 160.2L532.2 161.4L532.3 162.6L532.4 163.8L532.4 165.0L532.5 166.2L532.6 167.4L532.6 168.6L532.7 169.8L532.7 171.0L532.8 172.2L532.9 173.4L532.9 174.6L533.0 175.8L533.1 177.0L533.1 178.2L533.2 179.4L533.2 180.6L533.3 181.8L533.4 183.0L533.4 184.2L533.5 185.4L533.5 186.6L533.6 187.8L533.7 189.0L533.7 190.2L533.8 191.4L533.8 192.6L533.9 193.8L533.9 195.0L534.0 196.2L534.1 197.4L534.1 198.6L534.2 199.8L534.2 201.0L534.3 202.2L534.3 203.4L534.4 204.6L534.5 205.8L534.5 207.0L534.6 208.2L534.6 209.4L534.7 210.6L534.7 211.8L534.8 213.0L534.9 214.2L534.9 215.4L535.0 216.6L535.0 217.8L535.1 219.0L535.1 220.2L535.2 221.4L535.2 222.6L535.3 223.8L535.4 224.9L535.4 226.1L535.5 227.3L535.5 228.5L535.6 229.7L535.6 230.9L535.7 232.1L535.8 233.3L535.8 234.5L535.9 235.7L535.9 236.9L536.0 238.1L536.0 239.3L536.1 240.5L536.2 241.7L536.2 242.9L536.3 244.1L536.3 245.3L536.4 246.5L536.4 247.7L536.5 248.9L536.6 250.1L536.6 251.3L536.7 252.5L536.7 253.7L536.8 254.9L536.9 256.1L536.9 257.3L537.0 258.5L537.0 259.7L537.1 260.9L537.1 262.1L537.2 263.3L537.3 264.5L537.3 265.7L537.4 266.9L537.4 268.1L537.5 269.3L537.6 270.5L537.6 271.7L537.7 272.9L537.7 274.1L537.8 275.3L537.8 276.5L537.9 277.7L538.0 278.9L538.0 280.1L538.1 281.3L538.1 282.5L538.2 283.7L538.3 284.9L538.3 286.1L538.4 287.3L538.4 288.5L538.5 289.7L538.6 290.9L538.6 292.1L538.7 293.3L538.7 294.5L538.8 295.7L538.9 296.9L538.9 298.1L539.0 299.3L539.0 300.5L539.1 301.6L539.2 302.8L539.2 304.0L539.3 305.2L539.3 306.4L539.4 307.6L539.5 308.8L539.5 310.0L539.6 311.2L539.6 312.4L539.7 313.6L539.8 314.8L539.8 316.0L539.9 317.2L539.9 318.4L540.0 319.6L540.1 320.8L540.1 322.0L540.2 323.2L540.2 324.4L540.3 325.6L540.4 326.8L540.4 328.0L540.5 329.2L540.5 330.4L540.6 331.6L540.7 332.8L540.7 334.0L540.8 335.2L540.8 336.4L540.9 337.6L541.0 338.8L541.0 340.0L541.1 341.2L541.1 342.4L541.2 343.6L541.3 344.8L541.3 346.0L541.4 347.2L541.4 348.4L541.5 349.6L541.6 350.8L541.6 352.0L541.7 353.2L541.7 354.4L541.8 355.6L541.9 356.8L541.9 358.0L542.0 359.2L542.0 360.4L542.1 361.6L542.2 362.7L542.2 363.9L542.3 365.1L542.3 366.3L542.4 367.5L542.5 368.7L542.5 369.9L542.6 371.1L542.6 372.3L542.7 373.5L542.8 374.7L542.8 375.9L542.9 377.1L542.9 378.3L543.0 379.5L543.1 380.7L543.1 381.9L543.2 383.1L543.2 384.3L543.3 385.5L543.4 386.7L543.4 387.9L543.5 389.1L543.5 390.3L543.6 391.5L543.7 392.7L543.7 393.9L543.8 395.1L543.8 396.3L543.9 397.5L543.9 398.7L544.0 399.9L544.1 401.1L544.1 402.3L544.2 403.5L544.2 404.7L544.3 405.9L544.4 407.1L544.4 408.3L544.5 409.5L544.5 410.7L544.6 411.9L544.7 413.1L544.7 414.3L544.8 415.5L544.8 416.7L544.9 417.9L544.9 419.0L545.0 420.2L545.1 421.4L545.1 422.6L545.2 423.8L545.2 425.0L545.3 426.2L545.4 427.4L545.4 428.6L545.5 429.8L545.5 431.0L545.6 432.2L545.6 433.4L545.7 434.6L545.8 435.8L545.8 437.0L545.9 438.2L545.9 439.4L546.0 440.6L546.0 441.8L546.1 443.0L546.2 444.2L546.2 445.4L546.3 446.6L546.3 447.8L546.4 449.0L546.4 450.2L546.5 451.4L546.6 452.6L546.6 453.8L546.7 455.0L546.7 456.2L546.8 457.4L546.8 458.6L546.9 459.8L547.0 461.0L547.0 462.2L547.1 463.4L547.1 464.6L547.2 465.8L547.2 467.0L547.3 468.2L547.3 469.4L547.4 470.6L547.5 471.8L547.5 473.0L547.6 474.2L547.6 475.4L547.7 476.6L547.7 477.8L547.8 479.0L547.8 480.1L547.9 481.3L548.0 482.5L548.0 483.7L548.1 484.9L548.1 486.1L548.2 487.3L548.2 488.5L548.3 489.7L548.3 490.9L548.4 492.1L548.4 493.3L548.5 494.5L548.6 495.7L548.6 496.9L548.7 498.1L548.7 499.3L548.8 500.5L548.8 501.7L548.9 502.9L548.9 504.1L549.0 505.3L549.0 506.5L549.1 507.7L549.1 508.9L549.2 510.1L549.2 511.3L549.3 512.5L549.3 513.7L549.4 514.9L549.4 516.1L549.5 517.3L549.6 518.5L549.6 519.7L549.7 520.9L549.7 522.1L549.8 523.3L549.8 524.5L549.9 525.7L549.9 526.9L550.0 528.1L550.0 529.3L550.1 530.5L550.1 531.7L550.2 532.9L550.2 534.1L550.3 535.3L550.3 536.5L550.4 537.7L550.4 538.9L550.5 540.1L550.5 541.3L550.6 542.5L550.6 543.7L550.7 544.9L550.7 546.1L550.8 547.3L550.8 548.5L550.9 549.7L550.9 550.9L551.0 552.1L551.0 553.3L551.0 554.5L551.1 555.7L551.1 556.9L551.2 558.1L551.2 559.3L551.3 560.4L551.3 561.6L551.4 562.8L551.4 564.0L551.5 565.2L551.5 566.4L551.6 567.6L551.6 568.8L551.7 570.0L551.7 571.2L551.7 572.4L551.8 573.6L551.8 574.8L551.9 576.0L551.9 577.2L552.0 578.4L552.0 579.6L552.1 580.8L552.1 582.0L552.2 583.2L552.2 584.4L552.2 585.6L552.3 586.8L552.3 588.0L552.4 589.2L552.4 590.4L552.5 591.6L552.5 592.8L552.5 594.0L552.6 595.2L552.6 596.4L552.7 597.6L552.7 598.8L552.8 600.0L552.8 601.2L552.8 602.4L552.9 603.6L552.9 604.8L553.0 606.0L553.0 607.2L553.0 608.4L553.1 609.6L553.1 610.8L553.2 612.0"/>
<path stroke="#dc1626" stroke-width="1.5" d="M531.4 160.0L531.5 161.2L531.6 162.4L531.6 163.6L531.7 164.8L531.8 166.0L531.8 167.2L531.9 168.4L532.0 169.6L532.1 170.8L532.1 171.9L532.2 173.1L532.3 174.3L532.3 175.5L532.4 176.7L532.5 177.9L532.6 179.1L532.6 180.3L532.7 181.5L532.8 182.7L532.8 183.9L532.9 185.1L533.0 186.3L533.1 187.5L533.1 188.7L533.2 189.9L533.3 191.1L533.3 192.3L533.4 193.5L533.5 194.7L533.6 195.9L533.6 197.0L533.7 198.2L533.8 199.4L533.8 200.6L533.9 201.8L534.0 203.0L534.0 204.2L534.1 205.4L534.2 206.6L534.2 207.8L534.3 209.0L534.4 210.2L534.5 211.4L534.5 212.6L534.6 213.8L534.7 215.0L534.7 216.2L534.8 217.4L534.9 218.6L534.9 219.8L535.0 221.0L535.1 222.1L535.1 223.3L535.2 224.5L535.3 225.7L535.3 226.9L535.4 228.1L535.5 229.3L535.5 230.5L535.6 231.7L535.7 232.9L535.8 234.1L535.8 235.3L535.9 236.5L536.0 237.7L536.0 238.9L536.1 240.1L536.2 241.3L536.2 242.5L536.3 243.7L536.4 244.9L536.4 246.1L536.5 247.2L536.6 248.4L536.6 249.6L536.7 250.8L536.8 252.0L536.8 253.2L536.9 254.4L536.9 255.6L537.0 256.8L537.1 258.0L537.1 259.2L537.2 260.4L537.3 261.6L537.3 262.8L537.4 264.0L537.5 265.2L537.5 266.4L537.6 267.6L537.7 268.8L537.7 270.0L537.8 271.2L537.9 272.4L537.9 273.5L538.0 274.7L538.1 275.9L538.1 277.1L538.2 278.3L538.2 279.5L538.3 280.7L538.4 281.9L538.4 283.1L538.5 284.3L538.6 285.5L538.6 286.7L538.7 287.9L538.8 289.1L538.8 290.3L538.9 291.5L539.0 292.7L539.0 293.9L539.1 295.1L539.1 296.3L539.2 297.5L539.3 298.7L539.3 299.8L539.4 301.0L539.5 302.2L539.5 303.4L539.6 304.6L539.6 305.8L539.7 307.0L539.8 308.2L539.8 309.4L539.9 310.6L540.0 311.8L540.0 313.0L540.1 314.2L540.1 315.4L540.2 316.6L540.3 317.8L540.3 319.0L540.4 320.2L540.4 321.4L540.5 322.6L540.6 323.8L540.6 325.0L540.7 326.2L540.8 327.3L540.8 328.5L540.9 329.7L540.9 330.9L541.0 332.1L541.1 333.3L541.1 334.5L541.2 335.7L541.2 336.9L541.3 338.1L541.4 339.3L541.4 340.5L541.5 341.7L541.5 342.9L541.6 344.1L541.7 345.3L541.7 346.5L541.8 347.7L541.8 348.9L541.9 350.1L542.0 351.3L542.0 352.5L542.1 353.7L542.1 354.9L542.2 356.0L542.3 357.2L542.3 358.4L542.4 359.6L542.4 360.8L542.5 362.0L542.6 363.2L542.6 364.4L542.7 365.6L542.7 366.8L542.8 368.0L542.8 369.2L542.9 370.4L543.0 371.6L543.0 372.8L543.1 374.0L543.1 375.2L543.2 376.4L543.3 377.6L543.3 378.8L543.4 380.0L543.4 381.2L543.5 382.4L543.5 383.5L543.6 384.7L543.7 385.9L543.7 387.1L543.8 388.3L543.8 389.5L543.9 390.7L544.0 391.9L544.0 393.1L544.1 394.3L544.1 395.5L544.2 396.7L544.2 397.9L544.3 399.1L544.4 400.3L544.4 401.5L544.5 402.7L544.5 403.9L544.6 405.1L544.6 406.3L544.7 407.5L544.7 408.7L544.8 409.9L544.9 411.1L544.9 412.3L545.0 413.4L545.0 414.6L545.1 415.8L545.1 417.0L545.2 418.2L545.3 419.4L545.3 420.6L545.4 421.8L545.4 423.0L545.5 424.2L545.5 425.4L545.6 426.6L545.6 427.8L545.7 429.0L545.8 430.2L545.8 431.4L545.9 432.6L545.9 433.8L546.0 435.0L546.0 436.2L546.1 437.4L546.1 438.6L546.2 439.8L546.3 441.0L546.3 442.1L546.4 443.3L546.4 444.5L546.5 445.7L546.5 446.9L546.6 448.1L546.6 449.3L546.7 450.5L546.7 451.7L546.8 452.9L546.9 454.1L546.9 455.3L547.0 456.5L547.0 457.7L547.1 458.9L547.1 460.1L547.2 461.3L547.2 462.5L547.3 463.7L547.3 464.9L547.4 466.1L547.4 467.3L547.5 468.5L547.6 469.7L547.6 470.9L547.7 472.0L547.7 473.2L547.8 474.4L547.8 475.6L547.9 476.8L547.9 478.0L548.0 479.2L548.0 480.4L548.1 481.6L548.1 482.8L548.2 484.0L548.2 485.2L548.3 486.4L548.4 487.6L548.4 488.8L548.5 490.0L548.5 491.2L548.6 492.4L548.6 493.6L548.7 494.8L548.7 496.0L548.8 497.2L548.8 498.4L548.9 499.6L548.9 500.8L549.0 502.0L549.0 503.1L549.1 504.3L549.1 505.5L549.2 506.7L549.2 507.9L549.3 509.1L549.3 510.3L549.4 511.5L549.4 512.7L549.5 513.9L549.6 515.1L549.6 516.3L549.7 517.5L549.7 518.7L549.8 519.9L549.8 521.1L549.9 522.3L549.9 523.5L550.0 524.7L550.0 525.9L550.1 527.1L550.1 528.3L550.2 529.5L550.2 530.7L550.3 531.9L550.3 533.1L550.4 534.2L550.4 535.4L550.5 536.6L550.5 537.8L550.6 539.0L550.6 540.2L550.7 541.4L550.7 542.6L550.8 543.8L550.8 545.0L550.9 546.2L550.9 547.4L551.0 548.6L551.0 549.8L551.1 551.0L551.1 552.2L551.2 553.4L551.2 554.6L551.3 555.8L551.3 557.0L551.4 558.2L551.4 559.4L551.5 560.6L551.5 561.8L551.6 563.0L551.6 564.2L551.7 565.3L551.7 566.5L551.8 567.7L551.8 568.9L551.9 570.1L551.9 571.3L552.0 572.5L552.0 573.7L552.1 574.9L552.1 576.1L552.2 577.3L552.2 578.5L552.3 579.7L552.3 580.9L552.4 582.1L552.4 583.3L552.5 584.5L552.5 585.7L552.6 586.9L552.6 588.1L552.7 589.3L552.7 590.5L552.8 591.7L552.8 592.9L552.9 594.1L552.9 595.3L553.0 596.4L553.0 597.6L553.1 598.8L553.1 600.0L553.2 601.2L553.2 602.4L553.2 603.6L553.3 604.8L553.3 606.0L553.4 607.2L553.4 608.4L553.5 609.6L553.5 610.8L553.6 612.0"/>
<path stroke="url(#fadeR)" d="M67.5 217.9L68.7 217.9L69.9 217.9L71.1 217.8L72.3 217.8L73.5 217.8L74.7 217.8L75.9 217.8L77.1 217.8L78.3 217.8L79.5 217.8L80.7 217.8L81.9 217.8L83.1 217.8L84.3 217.8L85.5 217.8L86.7 217.8L87.9 217.8L89.1 217.8L90.3 217.8L91.5 217.8L92.7 217.8L93.9 217.8L95.1 217.8L96.3 217.8L97.4 217.8L98.6 217.8L99.8 217.8L101.0 217.8L102.2 217.8L103.4 217.8L104.6 217.8L105.8 217.8L107.0 217.8L108.2 217.8L109.4 217.8L110.6 217.8L111.8 217.8L113.0 217.8L114.2 217.8L115.4 217.8L116.6 217.8L117.8 217.8L119.0 217.8L120.2 217.8L121.4 217.8L122.6 217.8L123.8 217.8L125.0 217.8L126.2 217.8L127.4 217.8L128.6 217.8L129.8 217.8L131.0 217.8L132.2 217.8L133.4 217.8L134.6 217.8L135.8 217.9L137.0 217.9L138.2 217.9L139.4 217.9L140.6 217.9L141.8 217.9L143.0 217.9L144.2 217.9L145.4 217.9L146.6 217.9L147.8 217.9L149.0 217.9L150.2 217.9L151.4 217.9L152.6 217.9L153.8 217.9L154.9 217.9L156.1 217.9L157.3 217.9L158.5 217.9L159.7 217.9L160.9 217.9L162.1 217.9L163.3 217.9L164.5 217.9L165.7 217.9L166.9 217.9L168.1 217.9L169.3 217.9L170.5 217.9L171.7 217.9L172.9 217.9L174.1 217.9L175.3 218.0L176.5 218.0L177.7 218.0L178.9 218.0L180.1 218.0L181.3 218.0L182.5 218.0L183.7 218.0L184.9 218.0L186.1 218.0L187.3 218.0L188.5 218.0L189.7 218.0L190.9 218.0L192.1 218.0L193.3 218.0L194.5 218.0L195.7 218.0L196.9 218.0L198.1 218.0L199.3 218.0L200.5 218.0L201.7 218.0L202.9 218.0L204.1 218.1L205.3 218.1L206.5 218.1L207.7 218.1L208.9 218.1L210.1 218.1L211.3 218.1L212.4 218.1L213.6 218.1L214.8 218.1L216.0 218.1L217.2 218.1L218.4 218.1L219.6 218.1L220.8 218.1L222.0 218.1L223.2 218.1L224.4 218.1L225.6 218.1L226.8 218.1L228.0 218.1L229.2 218.2L230.4 218.2L231.6 218.2L232.8 218.2L234.0 218.2L235.2 218.2L236.4 218.2L237.6 218.2L238.8 218.2L240.0 218.2"/>
<path stroke="url(#fadeG)" d="M67.5 218.6L68.7 218.6L69.9 218.6L71.1 218.7L72.3 218.7L73.5 218.7L74.7 218.7L75.9 218.7L77.1 218.7L78.3 218.7L79.5 218.7L80.7 218.7L81.9 218.7L83.1 218.7L84.3 218.7L85.5 218.7L86.7 218.7L87.9 218.7L89.1 218.7L90.3 218.7L91.5 218.7L92.7 218.7L93.9 218.7L95.1 218.7L96.3 218.7L97.5 218.7L98.7 218.7L99.9 218.7L101.1 218.7L102.3 218.7L103.5 218.7L104.7 218.7L105.9 218.7L107.0 218.7L108.2 218.7L109.4 218.7L110.6 218.7L111.8 218.7L113.0 218.7L114.2 218.7L115.4 218.7L116.6 218.7L117.8 218.7L119.0 218.7L120.2 218.8L121.4 218.8L122.6 218.8L123.8 218.8L125.0 218.8L126.2 218.8L127.4 218.8L128.6 218.8L129.8 218.8L131.0 218.8L132.2 218.8L133.4 218.8L134.6 218.8L135.8 218.8L137.0 218.8L138.2 218.8L139.4 218.8L140.6 218.8L141.8 218.8L143.0 218.8L144.2 218.8L145.4 218.8L146.6 218.8L147.8 218.8L149.0 218.8L150.2 218.8L151.4 218.8L152.6 218.8L153.8 218.8L155.0 218.8L156.2 218.8L157.4 218.8L158.6 218.8L159.8 218.8L161.0 218.8L162.2 218.9L163.4 218.9L164.6 218.9L165.8 218.9L167.0 218.9L168.2 218.9L169.4 218.9L170.6 218.9L171.8 218.9L173.0 218.9L174.2 218.9L175.4 219.0L176.6 219.0L177.8 219.0L179.0 219.0L180.2 219.0L181.4 219.0L182.6 219.0L183.8 219.0L185.0 219.1L186.2 219.1L187.4 219.1L188.6 219.1L189.8 219.1L191.0 219.1L192.1 219.2L193.3 219.2L194.5 219.2L195.7 219.2L196.9 219.2L198.1 219.2L199.3 219.3L200.5 219.3L201.7 219.3L202.9 219.3L204.1 219.4L205.3 219.4L206.5 219.4L207.7 219.4L208.9 219.5L210.1 219.5L211.3 219.5L212.5 219.5L213.7 219.6L214.9 219.6L216.1 219.6L217.3 219.7L218.5 219.7L219.7 219.7L220.9 219.8L222.1 219.8L223.3 219.8L224.5 219.9L225.7 219.9L226.9 219.9L228.1 220.0L229.3 220.0L230.5 220.0L231.7 220.1L232.9 220.1L234.1 220.2L235.3 220.2L236.5 220.2L237.7 220.3L238.9 220.3L240.1 220.4L241.3 220.4L242.5 220.5L243.7 220.5L244.9 220.6L246.1 220.6L247.3 220.7L248.5 220.7L249.7 220.8L250.8 220.8L252.0 220.9L253.2 220.9L254.4 221.0L255.6 221.0L256.8 221.1L258.0 221.2L259.2 221.2L260.4 221.3L261.6 221.4L262.8 221.4L264.0 221.5L265.2 221.5L266.4 221.6L267.6 221.7L268.8 221.7L270.0 221.8"/>
</g>
<g stroke="#202020" stroke-width="1" fill="none">
<line x1="377" y1="88" x2="468.6" y2="144.3"/>
<line x1="461.3" y1="229.7" x2="526.5" y2="255.9"/>
<line x1="420.5" y1="311" x2="473" y2="289.3"/>
</g>
<rect x="306.5" y="65.5" width="103" height="22" fill="#ffffc0" stroke="#000" stroke-width="1"/>
<text class="lb" x="310.0" y="81.0" textLength="94.0" lengthAdjust="spacing">Worst-case result</text>
<rect x="501.5" y="256.5" width="101" height="22" fill="#ffffc0" stroke="#000" stroke-width="1"/>
<text class="lb" x="504.5" y="272.0" textLength="93.0" lengthAdjust="spacing">Sensitivity results</text>
<rect x="346.5" y="311.5" width="103" height="22" fill="#ffffc0" stroke="#000" stroke-width="1"/>
<text class="lb" x="350.0" y="327.0" textLength="94.0" lengthAdjust="spacing">Worst-case result</text>
<text class="ax" x="58.5" y="71.8" text-anchor="end">4</text>
<text class="ax" x="58.5" y="147.8" text-anchor="end">2</text>
<text class="ax" x="58.5" y="223.8" text-anchor="end">0</text>
<text class="ax" x="58.5" y="299.8" text-anchor="end">-2</text>
<text class="ax" x="58.5" y="375.8" text-anchor="end">-4</text>
<text class="ax" x="58.5" y="451.8" text-anchor="end">-6</text>
<text class="ax" x="58.5" y="527.8" text-anchor="end">-8</text>
<text class="ax" x="58.5" y="603.8" text-anchor="end">-10</text>
<text class="ax" x="68.3" y="619" text-anchor="middle">100</text>
<text class="ax" x="146.0" y="619" text-anchor="middle">200</text>
<text class="ax" x="191.8" y="619" text-anchor="middle">300</text>
<text class="ax" x="224.2" y="619" text-anchor="middle">400</text>
<text class="ax" x="249.4" y="619" text-anchor="middle">500</text>
<text class="ax" x="287.4" y="619" text-anchor="middle">700</text>
<text class="ax" x="327.7" y="619" text-anchor="middle">1k</text>
<text class="ax" x="406.0" y="619" text-anchor="middle">2k</text>
<text class="ax" x="451.8" y="619" text-anchor="middle">3k</text>
<text class="ax" x="484.2" y="619" text-anchor="middle">4k</text>
<text class="ax" x="509.4" y="619" text-anchor="middle">5k</text>
<text class="ax" x="530.0" y="619" text-anchor="middle">6k</text>
<text class="ax" x="547.4" y="619" text-anchor="middle">7k</text>
<text class="ax" x="562.5" y="619" text-anchor="middle">8k</text>
<text class="ax" x="587.7" y="619" text-anchor="middle">10k</text>
<text class="ax" x="66.4" y="651" textLength="93" lengthAdjust="spacing">Frequency/Hertz</text>
<text class="ax" x="525.6" y="651" textLength="62.5" lengthAdjust="spacing">1kHertz/div</text>
<text class="ax" transform="translate(24.5,308) rotate(-90)" text-anchor="middle" textLength="40" lengthAdjust="spacing">dB / dB</text>
</svg></body></html>
